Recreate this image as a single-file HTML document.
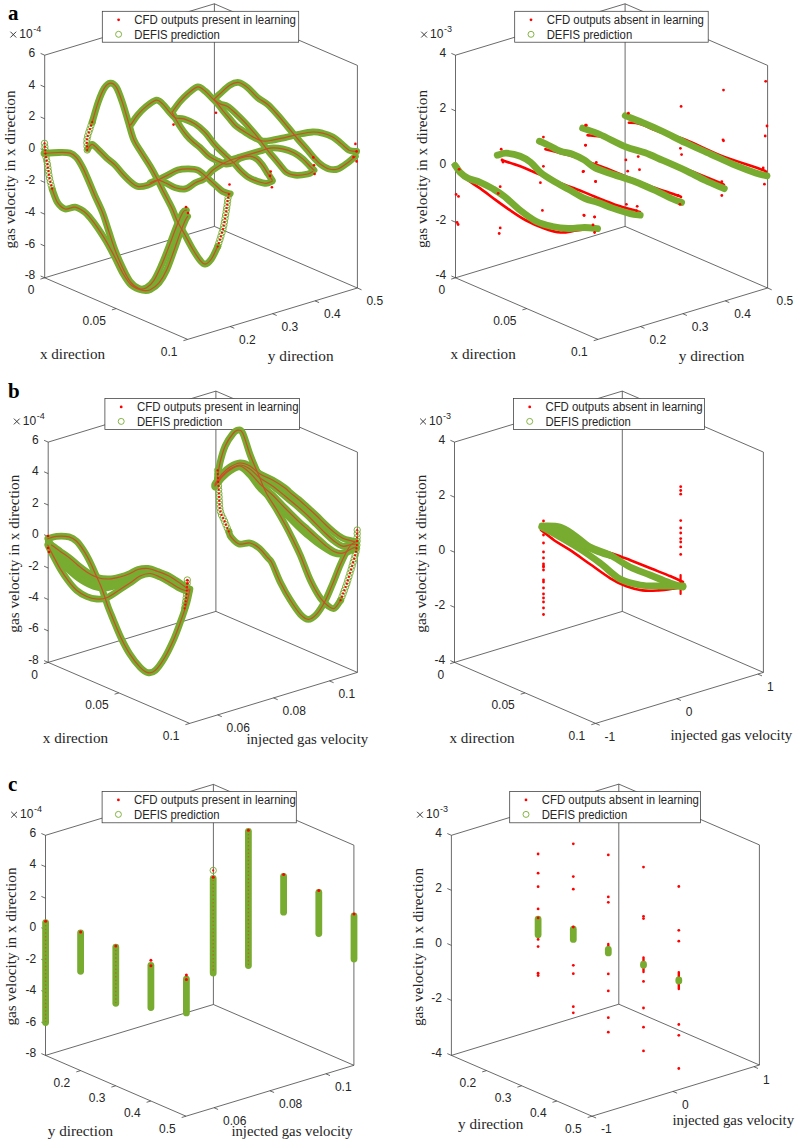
<!DOCTYPE html><html><head><meta charset="utf-8"><style>html,body{margin:0;padding:0;background:#fff;}svg{display:block}</style></head><body>
<svg width="797" height="1142" viewBox="0 0 797 1142">
<rect width="797" height="1142" fill="#fff"/>
<path d="M44.7 277.8L44.7 55.2M214.4 226.4L214.4 3.8M357.4 288.0L357.4 65.4M44.7 277.8L214.4 226.4M214.4 226.4L357.4 288.0M44.7 277.8L187.7 339.4M187.7 339.4L357.4 288.0M44.7 55.2L214.4 3.8M214.4 3.8L357.4 65.4M44.7 55.2L40.6 53.4M44.7 87.0L40.6 85.2M44.7 118.8L40.6 117.0M44.7 150.6L40.6 148.8M44.7 182.4L40.6 180.6M44.7 214.2L40.6 212.4M44.7 246.0L40.6 244.2M44.7 277.8L40.6 276.0M44.7 277.8L40.4 279.1M116.2 308.6L111.9 309.9M187.7 339.4L183.4 340.7M230.1 326.5L234.3 328.3M272.5 313.7L276.7 315.5M315.0 300.9L319.1 302.6M357.4 288.0L361.5 289.8" stroke="#3a3a3a" stroke-width="0.75" fill="none"/>
<text x="35.3" y="56.7" font-family='"Liberation Sans", sans-serif' font-size="12" fill="#262626" text-anchor="end">6</text>
<text x="35.3" y="88.5" font-family='"Liberation Sans", sans-serif' font-size="12" fill="#262626" text-anchor="end">4</text>
<text x="35.3" y="120.3" font-family='"Liberation Sans", sans-serif' font-size="12" fill="#262626" text-anchor="end">2</text>
<text x="35.3" y="152.1" font-family='"Liberation Sans", sans-serif' font-size="12" fill="#262626" text-anchor="end">0</text>
<text x="35.3" y="183.9" font-family='"Liberation Sans", sans-serif' font-size="12" fill="#262626" text-anchor="end">-2</text>
<text x="35.3" y="215.7" font-family='"Liberation Sans", sans-serif' font-size="12" fill="#262626" text-anchor="end">-4</text>
<text x="35.3" y="247.5" font-family='"Liberation Sans", sans-serif' font-size="12" fill="#262626" text-anchor="end">-6</text>
<text x="35.3" y="279.3" font-family='"Liberation Sans", sans-serif' font-size="12" fill="#262626" text-anchor="end">-8</text>
<path d="M10.4 31.7L16.2 37.5M16.2 31.7L10.4 37.5" stroke="#262626" stroke-width="0.9"/>
<text x="19.3" y="38.2" font-family='"Liberation Sans", sans-serif' font-size="12" fill="#262626">10</text>
<text x="33.2" y="32.0" font-family='"Liberation Sans", sans-serif' font-size="9" fill="#262626">-4</text>
<rect x="102.3" y="11.3" width="196.4" height="30.9" fill="#fff" stroke="#3a3a3a" stroke-width="0.75"/>
<circle cx="118.6" cy="19.8" r="1.4" fill="#ff0000"/>
<circle cx="118.6" cy="34.3" r="3.0" fill="none" stroke="#77ac30" stroke-width="0.9"/>
<text x="134.3" y="24.1" font-family='"Liberation Sans", sans-serif' font-size="12" fill="#262626" textLength="161.7" lengthAdjust="spacingAndGlyphs">CFD outputs present in learning</text>
<text x="134.3" y="38.6" font-family='"Liberation Sans", sans-serif' font-size="12" fill="#262626" textLength="85.5" lengthAdjust="spacingAndGlyphs">DEFIS prediction</text>
<text x="8.0" y="20.2" font-family='"Liberation Serif", serif' font-size="21" font-weight="bold" fill="#000">a</text>
<text x="34.4" y="294.1" font-family='"Liberation Sans", sans-serif' font-size="12" fill="#262626" text-anchor="end">0</text>
<text x="105.9" y="324.9" font-family='"Liberation Sans", sans-serif' font-size="12" fill="#262626" text-anchor="end">0.05</text>
<text x="177.4" y="355.7" font-family='"Liberation Sans", sans-serif' font-size="12" fill="#262626" text-anchor="end">0.1</text>
<text x="239.1" y="343.7" font-family='"Liberation Sans", sans-serif' font-size="12" fill="#262626">0.2</text>
<text x="281.5" y="330.9" font-family='"Liberation Sans", sans-serif' font-size="12" fill="#262626">0.3</text>
<text x="324.0" y="318.1" font-family='"Liberation Sans", sans-serif' font-size="12" fill="#262626">0.4</text>
<text x="366.4" y="305.2" font-family='"Liberation Sans", sans-serif' font-size="12" fill="#262626">0.5</text>
<text x="39.9" y="358.9" font-family='"Liberation Serif", serif' font-size="14.5" fill="#262626" textLength="65.3" lengthAdjust="spacingAndGlyphs">x direction</text>
<text x="267.8" y="361.4" font-family='"Liberation Serif", serif' font-size="14.5" fill="#262626" textLength="65.8" lengthAdjust="spacingAndGlyphs">y direction</text>
<text transform="translate(15.0 248.4) rotate(-90)" x="0" y="0" font-family='"Liberation Serif", serif' font-size="14" fill="#262626" textLength="158" lengthAdjust="spacingAndGlyphs">gas velocity in x direction</text>
<path d="M455.5 277.8L455.5 55.2M625.1 226.4L625.1 3.8M767.6 288.0L767.6 65.4M455.5 277.8L625.1 226.4M625.1 226.4L767.6 288.0M455.5 277.8L598.0 339.4M598.0 339.4L767.6 288.0M455.5 55.2L625.1 3.8M625.1 3.8L767.6 65.4M455.5 55.2L451.4 53.4M455.5 110.9L451.4 109.1M455.5 166.5L451.4 164.7M455.5 222.2L451.4 220.4M455.5 277.8L451.4 276.0M455.5 277.8L451.2 279.1M526.8 308.6L522.4 309.9M598.0 339.4L593.7 340.7M640.4 326.5L644.5 328.3M682.8 313.7L686.9 315.5M725.2 300.9L729.3 302.6M767.6 288.0L771.7 289.8" stroke="#3a3a3a" stroke-width="0.75" fill="none"/>
<text x="446.1" y="56.7" font-family='"Liberation Sans", sans-serif' font-size="12" fill="#262626" text-anchor="end">4</text>
<text x="446.1" y="112.4" font-family='"Liberation Sans", sans-serif' font-size="12" fill="#262626" text-anchor="end">2</text>
<text x="446.1" y="168.0" font-family='"Liberation Sans", sans-serif' font-size="12" fill="#262626" text-anchor="end">0</text>
<text x="446.1" y="223.7" font-family='"Liberation Sans", sans-serif' font-size="12" fill="#262626" text-anchor="end">-2</text>
<text x="446.1" y="279.3" font-family='"Liberation Sans", sans-serif' font-size="12" fill="#262626" text-anchor="end">-4</text>
<path d="M421.2 31.7L427.0 37.5M427.0 31.7L421.2 37.5" stroke="#262626" stroke-width="0.9"/>
<text x="430.1" y="38.2" font-family='"Liberation Sans", sans-serif' font-size="12" fill="#262626">10</text>
<text x="444.0" y="32.0" font-family='"Liberation Sans", sans-serif' font-size="9" fill="#262626">-3</text>
<rect x="514.7" y="11.3" width="193.5" height="30.9" fill="#fff" stroke="#3a3a3a" stroke-width="0.75"/>
<circle cx="531.0" cy="19.8" r="1.4" fill="#ff0000"/>
<circle cx="531.0" cy="34.3" r="3.0" fill="none" stroke="#77ac30" stroke-width="0.9"/>
<text x="546.7" y="24.1" font-family='"Liberation Sans", sans-serif' font-size="12" fill="#262626" textLength="157.2" lengthAdjust="spacingAndGlyphs">CFD outputs absent in learning</text>
<text x="546.7" y="38.6" font-family='"Liberation Sans", sans-serif' font-size="12" fill="#262626" textLength="85.5" lengthAdjust="spacingAndGlyphs">DEFIS prediction</text>
<text x="445.2" y="294.1" font-family='"Liberation Sans", sans-serif' font-size="12" fill="#262626" text-anchor="end">0</text>
<text x="516.5" y="324.9" font-family='"Liberation Sans", sans-serif' font-size="12" fill="#262626" text-anchor="end">0.05</text>
<text x="587.7" y="355.7" font-family='"Liberation Sans", sans-serif' font-size="12" fill="#262626" text-anchor="end">0.1</text>
<text x="649.4" y="343.7" font-family='"Liberation Sans", sans-serif' font-size="12" fill="#262626">0.2</text>
<text x="691.8" y="330.9" font-family='"Liberation Sans", sans-serif' font-size="12" fill="#262626">0.3</text>
<text x="734.2" y="318.1" font-family='"Liberation Sans", sans-serif' font-size="12" fill="#262626">0.4</text>
<text x="776.6" y="305.2" font-family='"Liberation Sans", sans-serif' font-size="12" fill="#262626">0.5</text>
<text x="450.5" y="358.9" font-family='"Liberation Serif", serif' font-size="14.5" fill="#262626" textLength="65.3" lengthAdjust="spacingAndGlyphs">x direction</text>
<text x="678.7" y="361.4" font-family='"Liberation Serif", serif' font-size="14.5" fill="#262626" textLength="65.8" lengthAdjust="spacingAndGlyphs">y direction</text>
<text transform="translate(426.6 248.0) rotate(-90)" x="0" y="0" font-family='"Liberation Serif", serif' font-size="14" fill="#262626" textLength="158" lengthAdjust="spacingAndGlyphs">gas velocity in x direction</text>
<path d="M48.2 662.4L48.2 442.1M215.9 611.4L215.9 391.1M357.4 672.4L357.4 452.1M48.2 662.4L215.9 611.4M215.9 611.4L357.4 672.4M48.2 662.4L189.7 723.4M189.7 723.4L357.4 672.4M48.2 442.1L215.9 391.1M215.9 391.1L357.4 452.1M48.2 442.1L44.1 440.3M48.2 473.6L44.1 471.8M48.2 505.0L44.1 503.3M48.2 536.5L44.1 534.7M48.2 568.0L44.1 566.2M48.2 599.5L44.1 597.7M48.2 630.9L44.1 629.1M48.2 662.4L44.1 660.6M48.2 662.4L43.9 663.7M118.9 692.9L114.6 694.2M189.7 723.4L185.4 724.7M217.6 714.9L221.8 716.7M273.5 697.9L277.7 699.7M329.4 680.9L333.6 682.7" stroke="#3a3a3a" stroke-width="0.75" fill="none"/>
<text x="38.8" y="443.6" font-family='"Liberation Sans", sans-serif' font-size="12" fill="#262626" text-anchor="end">6</text>
<text x="38.8" y="475.1" font-family='"Liberation Sans", sans-serif' font-size="12" fill="#262626" text-anchor="end">4</text>
<text x="38.8" y="506.5" font-family='"Liberation Sans", sans-serif' font-size="12" fill="#262626" text-anchor="end">2</text>
<text x="38.8" y="538.0" font-family='"Liberation Sans", sans-serif' font-size="12" fill="#262626" text-anchor="end">0</text>
<text x="38.8" y="569.5" font-family='"Liberation Sans", sans-serif' font-size="12" fill="#262626" text-anchor="end">-2</text>
<text x="38.8" y="601.0" font-family='"Liberation Sans", sans-serif' font-size="12" fill="#262626" text-anchor="end">-4</text>
<text x="38.8" y="632.4" font-family='"Liberation Sans", sans-serif' font-size="12" fill="#262626" text-anchor="end">-6</text>
<text x="38.8" y="663.9" font-family='"Liberation Sans", sans-serif' font-size="12" fill="#262626" text-anchor="end">-8</text>
<path d="M13.9 418.6L19.7 424.4M19.7 418.6L13.9 424.4" stroke="#262626" stroke-width="0.9"/>
<text x="22.8" y="425.1" font-family='"Liberation Sans", sans-serif' font-size="12" fill="#262626">10</text>
<text x="36.7" y="418.9" font-family='"Liberation Sans", sans-serif' font-size="9" fill="#262626">-4</text>
<rect x="104.9" y="398.4" width="194.5" height="31.1" fill="#fff" stroke="#3a3a3a" stroke-width="0.75"/>
<circle cx="121.2" cy="406.9" r="1.4" fill="#ff0000"/>
<circle cx="121.2" cy="421.4" r="3.0" fill="none" stroke="#77ac30" stroke-width="0.9"/>
<text x="136.9" y="411.2" font-family='"Liberation Sans", sans-serif' font-size="12" fill="#262626" textLength="161.7" lengthAdjust="spacingAndGlyphs">CFD outputs present in learning</text>
<text x="136.9" y="425.7" font-family='"Liberation Sans", sans-serif' font-size="12" fill="#262626" textLength="85.5" lengthAdjust="spacingAndGlyphs">DEFIS prediction</text>
<text x="8.0" y="398.3" font-family='"Liberation Serif", serif' font-size="21" font-weight="bold" fill="#000">b</text>
<text x="37.9" y="678.7" font-family='"Liberation Sans", sans-serif' font-size="12" fill="#262626" text-anchor="end">0</text>
<text x="108.6" y="709.2" font-family='"Liberation Sans", sans-serif' font-size="12" fill="#262626" text-anchor="end">0.05</text>
<text x="179.4" y="739.7" font-family='"Liberation Sans", sans-serif' font-size="12" fill="#262626" text-anchor="end">0.1</text>
<text x="226.6" y="732.1" font-family='"Liberation Sans", sans-serif' font-size="12" fill="#262626">0.06</text>
<text x="282.5" y="715.1" font-family='"Liberation Sans", sans-serif' font-size="12" fill="#262626">0.08</text>
<text x="338.4" y="698.1" font-family='"Liberation Sans", sans-serif' font-size="12" fill="#262626">0.1</text>
<text x="42.8" y="742.7" font-family='"Liberation Serif", serif' font-size="14.5" fill="#262626" textLength="65.3" lengthAdjust="spacingAndGlyphs">x direction</text>
<text x="246.5" y="743.9" font-family='"Liberation Serif", serif' font-size="14.5" fill="#262626" textLength="121.7" lengthAdjust="spacingAndGlyphs">injected gas velocity</text>
<text transform="translate(19.1 632.7) rotate(-90)" x="0" y="0" font-family='"Liberation Serif", serif' font-size="14" fill="#262626" textLength="158" lengthAdjust="spacingAndGlyphs">gas velocity in x direction</text>
<path d="M454.5 662.4L454.5 442.1M622.3 611.4L622.3 391.1M763.4 672.4L763.4 452.1M454.5 662.4L622.3 611.4M622.3 611.4L763.4 672.4M454.5 662.4L595.6 723.4M595.6 723.4L763.4 672.4M454.5 442.1L622.3 391.1M622.3 391.1L763.4 452.1M454.5 442.1L450.4 440.3M454.5 497.2L450.4 495.4M454.5 552.2L450.4 550.5M454.5 607.3L450.4 605.5M454.5 662.4L450.4 660.6M454.5 662.4L450.2 663.7M525.1 692.9L520.7 694.2M595.6 723.4L591.3 724.7M595.6 723.4L599.7 725.2M676.7 698.7L680.9 700.5M757.9 674.1L762.0 675.9" stroke="#3a3a3a" stroke-width="0.75" fill="none"/>
<text x="445.1" y="443.6" font-family='"Liberation Sans", sans-serif' font-size="12" fill="#262626" text-anchor="end">4</text>
<text x="445.1" y="498.7" font-family='"Liberation Sans", sans-serif' font-size="12" fill="#262626" text-anchor="end">2</text>
<text x="445.1" y="553.8" font-family='"Liberation Sans", sans-serif' font-size="12" fill="#262626" text-anchor="end">0</text>
<text x="445.1" y="608.8" font-family='"Liberation Sans", sans-serif' font-size="12" fill="#262626" text-anchor="end">-2</text>
<text x="445.1" y="663.9" font-family='"Liberation Sans", sans-serif' font-size="12" fill="#262626" text-anchor="end">-4</text>
<path d="M420.2 418.6L426.0 424.4M426.0 418.6L420.2 424.4" stroke="#262626" stroke-width="0.9"/>
<text x="429.1" y="425.1" font-family='"Liberation Sans", sans-serif' font-size="12" fill="#262626">10</text>
<text x="443.0" y="418.9" font-family='"Liberation Sans", sans-serif' font-size="9" fill="#262626">-3</text>
<rect x="513.4" y="398.4" width="191.0" height="31.1" fill="#fff" stroke="#3a3a3a" stroke-width="0.75"/>
<circle cx="529.7" cy="406.9" r="1.4" fill="#ff0000"/>
<circle cx="529.7" cy="421.4" r="3.0" fill="none" stroke="#77ac30" stroke-width="0.9"/>
<text x="545.4" y="411.2" font-family='"Liberation Sans", sans-serif' font-size="12" fill="#262626" textLength="157.2" lengthAdjust="spacingAndGlyphs">CFD outputs absent in learning</text>
<text x="545.4" y="425.7" font-family='"Liberation Sans", sans-serif' font-size="12" fill="#262626" textLength="85.5" lengthAdjust="spacingAndGlyphs">DEFIS prediction</text>
<text x="444.2" y="678.7" font-family='"Liberation Sans", sans-serif' font-size="12" fill="#262626" text-anchor="end">0</text>
<text x="514.8" y="709.2" font-family='"Liberation Sans", sans-serif' font-size="12" fill="#262626" text-anchor="end">0.05</text>
<text x="585.3" y="739.7" font-family='"Liberation Sans", sans-serif' font-size="12" fill="#262626" text-anchor="end">0.1</text>
<text x="604.6" y="740.6" font-family='"Liberation Sans", sans-serif' font-size="12" fill="#262626">-1</text>
<text x="685.7" y="715.9" font-family='"Liberation Sans", sans-serif' font-size="12" fill="#262626">0</text>
<text x="766.9" y="691.3" font-family='"Liberation Sans", sans-serif' font-size="12" fill="#262626">1</text>
<text x="449.4" y="742.7" font-family='"Liberation Serif", serif' font-size="14.5" fill="#262626" textLength="65.3" lengthAdjust="spacingAndGlyphs">x direction</text>
<text x="670.5" y="740.2" font-family='"Liberation Serif", serif' font-size="14.5" fill="#262626" textLength="121.7" lengthAdjust="spacingAndGlyphs">injected gas velocity</text>
<text transform="translate(425.6 632.7) rotate(-90)" x="0" y="0" font-family='"Liberation Serif", serif' font-size="14" fill="#262626" textLength="158" lengthAdjust="spacingAndGlyphs">gas velocity in x direction</text>
<path d="M45.5 1055.4L45.5 835.3M213.4 1004.5L213.4 784.4M353.9 1065.3L353.9 845.2M45.5 1055.4L213.4 1004.5M213.4 1004.5L353.9 1065.3M45.5 1055.4L186.0 1116.2M186.0 1116.2L353.9 1065.3M45.5 835.3L213.4 784.4M213.4 784.4L353.9 845.2M45.5 835.3L41.4 833.5M45.5 866.7L41.4 865.0M45.5 898.2L41.4 896.4M45.5 929.6L41.4 927.8M45.5 961.1L41.4 959.3M45.5 992.5L41.4 990.7M45.5 1024.0L41.4 1022.2M45.5 1055.4L41.4 1053.6M80.6 1070.6L76.3 1071.9M115.7 1085.8L111.4 1087.1M150.9 1101.0L146.6 1102.3M186.0 1116.2L181.7 1117.5M214.0 1107.7L218.1 1109.5M269.9 1090.8L274.1 1092.5M325.9 1073.8L330.0 1075.6" stroke="#3a3a3a" stroke-width="0.75" fill="none"/>
<text x="36.1" y="836.8" font-family='"Liberation Sans", sans-serif' font-size="12" fill="#262626" text-anchor="end">6</text>
<text x="36.1" y="868.2" font-family='"Liberation Sans", sans-serif' font-size="12" fill="#262626" text-anchor="end">4</text>
<text x="36.1" y="899.7" font-family='"Liberation Sans", sans-serif' font-size="12" fill="#262626" text-anchor="end">2</text>
<text x="36.1" y="931.1" font-family='"Liberation Sans", sans-serif' font-size="12" fill="#262626" text-anchor="end">0</text>
<text x="36.1" y="962.6" font-family='"Liberation Sans", sans-serif' font-size="12" fill="#262626" text-anchor="end">-2</text>
<text x="36.1" y="994.0" font-family='"Liberation Sans", sans-serif' font-size="12" fill="#262626" text-anchor="end">-4</text>
<text x="36.1" y="1025.5" font-family='"Liberation Sans", sans-serif' font-size="12" fill="#262626" text-anchor="end">-6</text>
<text x="36.1" y="1056.9" font-family='"Liberation Sans", sans-serif' font-size="12" fill="#262626" text-anchor="end">-8</text>
<path d="M11.2 811.8L17.0 817.6M17.0 811.8L11.2 817.6" stroke="#262626" stroke-width="0.9"/>
<text x="20.1" y="818.3" font-family='"Liberation Sans", sans-serif' font-size="12" fill="#262626">10</text>
<text x="34.0" y="812.1" font-family='"Liberation Sans", sans-serif' font-size="9" fill="#262626">-4</text>
<rect x="102.1" y="791.4" width="194.2" height="31.4" fill="#fff" stroke="#3a3a3a" stroke-width="0.75"/>
<circle cx="118.4" cy="799.9" r="1.4" fill="#ff0000"/>
<circle cx="118.4" cy="814.4" r="3.0" fill="none" stroke="#77ac30" stroke-width="0.9"/>
<text x="134.1" y="804.2" font-family='"Liberation Sans", sans-serif' font-size="12" fill="#262626" textLength="161.7" lengthAdjust="spacingAndGlyphs">CFD outputs present in learning</text>
<text x="134.1" y="818.7" font-family='"Liberation Sans", sans-serif' font-size="12" fill="#262626" textLength="85.5" lengthAdjust="spacingAndGlyphs">DEFIS prediction</text>
<text x="8.0" y="791.3" font-family='"Liberation Serif", serif' font-size="21" font-weight="bold" fill="#000">c</text>
<text x="70.3" y="1086.9" font-family='"Liberation Sans", sans-serif' font-size="12" fill="#262626" text-anchor="end">0.2</text>
<text x="105.4" y="1102.1" font-family='"Liberation Sans", sans-serif' font-size="12" fill="#262626" text-anchor="end">0.3</text>
<text x="140.6" y="1117.3" font-family='"Liberation Sans", sans-serif' font-size="12" fill="#262626" text-anchor="end">0.4</text>
<text x="175.7" y="1132.5" font-family='"Liberation Sans", sans-serif' font-size="12" fill="#262626" text-anchor="end">0.5</text>
<text x="223.0" y="1124.9" font-family='"Liberation Sans", sans-serif' font-size="12" fill="#262626">0.06</text>
<text x="278.9" y="1108.0" font-family='"Liberation Sans", sans-serif' font-size="12" fill="#262626">0.08</text>
<text x="334.9" y="1091.0" font-family='"Liberation Sans", sans-serif' font-size="12" fill="#262626">0.1</text>
<text x="47.8" y="1135.9" font-family='"Liberation Serif", serif' font-size="14.5" fill="#262626" textLength="65.3" lengthAdjust="spacingAndGlyphs">y direction</text>
<text x="231.4" y="1135.9" font-family='"Liberation Serif", serif' font-size="14.5" fill="#262626" textLength="121.2" lengthAdjust="spacingAndGlyphs">injected gas velocity</text>
<text transform="translate(16.2 1025.5) rotate(-90)" x="0" y="0" font-family='"Liberation Serif", serif' font-size="14" fill="#262626" textLength="158" lengthAdjust="spacingAndGlyphs">gas velocity in x direction</text>
<path d="M451.4 1055.4L451.4 835.3M618.8 1004.2L618.8 784.1M759.4 1065.0L759.4 844.9M451.4 1055.4L618.8 1004.2M618.8 1004.2L759.4 1065.0M451.4 1055.4L592.0 1116.2M592.0 1116.2L759.4 1065.0M451.4 835.3L618.8 784.1M618.8 784.1L759.4 844.9M451.4 835.3L447.3 833.5M451.4 890.3L447.3 888.5M451.4 945.4L447.3 943.6M451.4 1000.4L447.3 998.6M451.4 1055.4L447.3 1053.6M486.5 1070.6L482.2 1071.9M521.7 1085.8L517.4 1087.1M556.9 1101.0L552.5 1102.3M592.0 1116.2L587.7 1117.5M592.0 1116.2L596.1 1118.0M672.9 1091.4L677.1 1093.2M753.9 1066.7L758.0 1068.5" stroke="#3a3a3a" stroke-width="0.75" fill="none"/>
<text x="442.0" y="836.8" font-family='"Liberation Sans", sans-serif' font-size="12" fill="#262626" text-anchor="end">4</text>
<text x="442.0" y="891.8" font-family='"Liberation Sans", sans-serif' font-size="12" fill="#262626" text-anchor="end">2</text>
<text x="442.0" y="946.9" font-family='"Liberation Sans", sans-serif' font-size="12" fill="#262626" text-anchor="end">0</text>
<text x="442.0" y="1001.9" font-family='"Liberation Sans", sans-serif' font-size="12" fill="#262626" text-anchor="end">-2</text>
<text x="442.0" y="1056.9" font-family='"Liberation Sans", sans-serif' font-size="12" fill="#262626" text-anchor="end">-4</text>
<path d="M417.1 811.8L422.9 817.6M422.9 811.8L417.1 817.6" stroke="#262626" stroke-width="0.9"/>
<text x="426.0" y="818.3" font-family='"Liberation Sans", sans-serif' font-size="12" fill="#262626">10</text>
<text x="439.9" y="812.1" font-family='"Liberation Sans", sans-serif' font-size="9" fill="#262626">-3</text>
<rect x="509.7" y="791.4" width="190.7" height="31.4" fill="#fff" stroke="#3a3a3a" stroke-width="0.75"/>
<circle cx="526.0" cy="799.9" r="1.4" fill="#ff0000"/>
<circle cx="526.0" cy="814.4" r="3.0" fill="none" stroke="#77ac30" stroke-width="0.9"/>
<text x="541.7" y="804.2" font-family='"Liberation Sans", sans-serif' font-size="12" fill="#262626" textLength="157.2" lengthAdjust="spacingAndGlyphs">CFD outputs absent in learning</text>
<text x="541.7" y="818.7" font-family='"Liberation Sans", sans-serif' font-size="12" fill="#262626" textLength="85.5" lengthAdjust="spacingAndGlyphs">DEFIS prediction</text>
<text x="476.2" y="1086.9" font-family='"Liberation Sans", sans-serif' font-size="12" fill="#262626" text-anchor="end">0.2</text>
<text x="511.4" y="1102.1" font-family='"Liberation Sans", sans-serif' font-size="12" fill="#262626" text-anchor="end">0.3</text>
<text x="546.6" y="1117.3" font-family='"Liberation Sans", sans-serif' font-size="12" fill="#262626" text-anchor="end">0.4</text>
<text x="581.7" y="1132.5" font-family='"Liberation Sans", sans-serif' font-size="12" fill="#262626" text-anchor="end">0.5</text>
<text x="601.0" y="1133.4" font-family='"Liberation Sans", sans-serif' font-size="12" fill="#262626">-1</text>
<text x="681.9" y="1108.6" font-family='"Liberation Sans", sans-serif' font-size="12" fill="#262626">0</text>
<text x="762.9" y="1083.9" font-family='"Liberation Sans", sans-serif' font-size="12" fill="#262626">1</text>
<text x="458.0" y="1128.5" font-family='"Liberation Serif", serif' font-size="14.5" fill="#262626" textLength="65.3" lengthAdjust="spacingAndGlyphs">y direction</text>
<text x="672.4" y="1124.7" font-family='"Liberation Serif", serif' font-size="14.5" fill="#262626" textLength="121.7" lengthAdjust="spacingAndGlyphs">injected gas velocity</text>
<text transform="translate(422.6 1026.0) rotate(-90)" x="0" y="0" font-family='"Liberation Serif", serif' font-size="14" fill="#262626" textLength="158" lengthAdjust="spacingAndGlyphs">gas velocity in x direction</text>
<path d="M458.1 170.3C459.8 172.0 464.4 177.3 468.1 180.3C471.8 183.3 475.5 185.1 480.2 188.4C484.9 191.8 491.2 196.7 496.2 200.4C501.2 204.1 505.3 207.1 510.3 210.4C515.3 213.8 520.6 217.5 526.3 220.5C532.0 223.5 538.7 226.5 544.4 228.5C550.1 230.5 555.1 232.2 560.5 232.5C565.9 232.8 571.1 231.2 576.5 230.5C581.9 229.8 589.9 228.8 592.6 228.5" stroke="#ff0000" stroke-width="2.6" fill="none" stroke-linecap="round" stroke-linejoin="round"/>
<path d="M502.2 160.2C505.2 161.2 514.9 164.3 520.3 166.3C525.7 168.3 530.4 170.6 534.4 172.3C538.4 174.0 540.1 174.5 544.4 176.3C548.7 178.1 554.1 180.6 560.0 183.0C565.9 185.4 574.1 188.2 580.0 190.5C585.9 192.8 588.8 194.3 595.1 196.8C601.4 199.3 610.9 203.2 617.6 205.5C624.3 207.8 631.5 209.5 635.2 210.6C638.9 211.7 639.2 211.8 640.0 212.0" stroke="#ff0000" stroke-width="2.6" fill="none" stroke-linecap="round" stroke-linejoin="round"/>
<path d="M545.4 149.2C547.8 149.8 555.1 151.7 560.0 153.0C564.9 154.3 570.4 155.6 575.0 157.0C579.6 158.4 582.5 159.8 587.5 161.6C592.5 163.4 598.0 165.2 605.1 167.9C612.2 170.6 621.6 174.7 630.0 178.0C638.4 181.3 647.3 185.1 655.3 188.0C663.3 190.9 673.6 194.0 677.9 195.5C682.2 197.0 680.5 196.8 681.0 197.0" stroke="#ff0000" stroke-width="2.6" fill="none" stroke-linecap="round" stroke-linejoin="round"/>
<path d="M587.5 135.3C590.4 135.7 598.0 135.7 605.1 137.8C612.2 139.9 620.8 144.4 630.0 148.0C639.2 151.6 649.8 155.2 660.3 159.1C670.8 163.0 682.9 167.7 692.9 171.7C702.9 175.7 715.3 180.8 720.5 183.0C725.7 185.2 723.4 184.7 724.0 185.0" stroke="#ff0000" stroke-width="2.6" fill="none" stroke-linecap="round" stroke-linejoin="round"/>
<path d="M628.9 122.7C630.8 122.9 635.0 122.5 640.2 124.0C645.4 125.5 652.5 129.4 660.0 132.0C667.5 134.6 675.3 135.9 685.4 139.8C695.5 143.7 708.0 150.5 720.5 155.4C733.0 160.3 753.1 166.4 760.7 169.2C768.3 172.0 765.1 171.5 766.0 172.0" stroke="#ff0000" stroke-width="2.6" fill="none" stroke-linecap="round" stroke-linejoin="round"/>
<path d="M541.0 530.0C543.2 531.7 549.2 536.8 554.1 540.2C559.0 543.6 564.2 546.2 570.2 550.2C576.2 554.2 583.5 559.6 590.2 564.3C596.9 569.0 604.3 574.6 610.3 578.3C616.3 582.0 621.0 584.3 626.4 586.3C631.8 588.3 637.0 589.7 642.4 590.4C647.8 591.1 653.1 590.7 658.5 590.4C663.9 590.1 670.5 589.0 674.6 588.4C678.7 587.8 681.6 587.2 683.0 587.0" stroke="#ff0000" stroke-width="2.6" fill="none" stroke-linecap="round" stroke-linejoin="round"/>
<path d="M600.0 550.0C602.4 550.7 609.2 552.5 614.3 554.2C619.4 555.9 624.4 557.9 630.4 560.2C636.4 562.6 643.8 565.6 650.5 568.3C657.2 571.0 665.2 574.0 670.6 576.3C676.0 578.6 680.9 581.0 683.0 582.0" stroke="#ff0000" stroke-width="2.6" fill="none" stroke-linecap="round" stroke-linejoin="round"/>
<path d="M680.6 575.0C680.6 578.2 680.6 590.8 680.6 594.0" stroke="#ff0000" stroke-width="2.2" fill="none" stroke-linecap="round" stroke-linejoin="round"/>
<path d="M608.3 944.0C608.3 945.2 608.3 949.8 608.3 951.0" stroke="#ff0000" stroke-width="2.4" fill="none" stroke-linecap="round" stroke-linejoin="round"/>
<path d="M643.5 957.4C643.5 959.9 643.5 969.6 643.5 972.1" stroke="#ff0000" stroke-width="2.4" fill="none" stroke-linecap="round" stroke-linejoin="round"/>
<path d="M678.8 972.1C678.8 974.9 678.8 986.2 678.8 989.0" stroke="#ff0000" stroke-width="2.4" fill="none" stroke-linecap="round" stroke-linejoin="round"/>
<path d="M44.0 153.5C46.5 153.3 54.4 152.6 58.8 152.5C63.1 152.4 67.2 152.3 70.1 153.1C73.0 153.9 74.3 155.1 76.4 157.5C78.5 159.9 80.6 163.6 82.7 167.6C84.8 171.6 86.8 176.6 88.9 181.4C91.0 186.2 92.9 191.2 95.2 196.4C97.5 201.6 100.2 206.7 102.5 212.5C104.8 218.3 106.7 225.1 108.8 231.4C110.9 237.7 112.8 244.1 115.1 250.2C117.4 256.3 120.1 262.6 122.6 267.8C125.1 273.0 127.5 278.2 130.2 281.6C132.9 285.1 136.2 287.5 138.9 288.5C141.6 289.5 144.0 289.2 146.5 287.8C149.0 286.4 151.5 284.1 154.0 280.3C156.5 276.5 159.0 270.8 161.5 265.2C164.0 259.6 166.5 252.9 169.0 246.4C171.5 239.9 174.3 232.0 176.6 226.3C178.9 220.7 181.2 215.2 182.8 212.5C184.4 209.8 185.7 210.5 186.3 210.1" stroke="#77ac30" stroke-width="6.8" fill="none" stroke-linecap="round" stroke-linejoin="round"/>
<circle cx="44.5" cy="143.3" r="3.2" fill="none" stroke="#77ac30" stroke-width="0.9"/>
<circle cx="44.9" cy="146.8" r="3.2" fill="none" stroke="#77ac30" stroke-width="0.9"/>
<circle cx="45.3" cy="150.3" r="3.2" fill="none" stroke="#77ac30" stroke-width="0.9"/>
<circle cx="45.4" cy="153.7" r="3.2" fill="none" stroke="#77ac30" stroke-width="0.9"/>
<circle cx="46.0" cy="157.2" r="3.2" fill="none" stroke="#77ac30" stroke-width="0.9"/>
<circle cx="46.7" cy="160.6" r="3.2" fill="none" stroke="#77ac30" stroke-width="0.9"/>
<circle cx="47.4" cy="164.2" r="3.2" fill="none" stroke="#77ac30" stroke-width="0.9"/>
<circle cx="47.9" cy="167.7" r="3.2" fill="none" stroke="#77ac30" stroke-width="0.9"/>
<circle cx="48.4" cy="171.1" r="3.2" fill="none" stroke="#77ac30" stroke-width="0.9"/>
<circle cx="48.9" cy="174.7" r="3.2" fill="none" stroke="#77ac30" stroke-width="0.9"/>
<circle cx="49.5" cy="178.2" r="3.2" fill="none" stroke="#77ac30" stroke-width="0.9"/>
<circle cx="50.3" cy="181.8" r="3.2" fill="none" stroke="#77ac30" stroke-width="0.9"/>
<circle cx="51.2" cy="185.4" r="3.2" fill="none" stroke="#77ac30" stroke-width="0.9"/>
<circle cx="52.1" cy="188.7" r="3.2" fill="none" stroke="#77ac30" stroke-width="0.9"/>
<path d="M52.5 190.2C53.4 192.3 55.5 199.6 57.6 202.7C59.7 205.8 62.2 208.3 65.1 209.0C68.0 209.7 72.0 206.7 75.1 207.1C78.2 207.5 81.4 209.8 83.9 211.5C86.4 213.2 87.7 214.9 90.0 217.6C92.3 220.3 94.8 223.6 97.5 227.6C100.2 231.6 103.4 236.4 106.3 241.4C109.2 246.4 112.4 252.5 115.1 257.7C117.8 262.9 119.9 268.2 122.6 272.8C125.3 277.4 128.1 282.4 131.4 285.3C134.8 288.2 139.6 289.6 142.7 290.3C145.8 291.0 147.5 290.9 150.2 289.7C152.9 288.4 156.3 286.0 159.0 282.8C161.7 279.6 164.0 275.7 166.5 270.3C169.0 264.9 171.8 256.5 174.1 250.2C176.4 243.9 178.4 237.6 180.3 232.6C182.2 227.6 184.2 222.8 185.4 220.1C186.6 217.4 187.2 217.0 187.6 216.4" stroke="#77ac30" stroke-width="6.8" fill="none" stroke-linecap="round" stroke-linejoin="round"/>
<circle cx="87.2" cy="150.0" r="3.2" fill="none" stroke="#77ac30" stroke-width="0.9"/>
<circle cx="87.0" cy="146.4" r="3.2" fill="none" stroke="#77ac30" stroke-width="0.9"/>
<circle cx="86.8" cy="142.8" r="3.2" fill="none" stroke="#77ac30" stroke-width="0.9"/>
<circle cx="87.0" cy="139.3" r="3.2" fill="none" stroke="#77ac30" stroke-width="0.9"/>
<circle cx="87.7" cy="136.0" r="3.2" fill="none" stroke="#77ac30" stroke-width="0.9"/>
<circle cx="88.8" cy="132.3" r="3.2" fill="none" stroke="#77ac30" stroke-width="0.9"/>
<circle cx="89.9" cy="129.1" r="3.2" fill="none" stroke="#77ac30" stroke-width="0.9"/>
<circle cx="91.0" cy="125.6" r="3.2" fill="none" stroke="#77ac30" stroke-width="0.9"/>
<circle cx="92.2" cy="122.2" r="3.2" fill="none" stroke="#77ac30" stroke-width="0.9"/>
<path d="M92.2 122.2C93.2 118.8 96.2 107.8 98.2 102.1C100.2 96.4 102.3 91.3 104.3 88.1C106.3 84.9 108.3 83.3 110.3 83.1C112.3 82.9 114.3 83.9 116.3 87.1C118.3 90.3 120.3 96.2 122.3 102.1C124.3 107.9 126.5 115.9 128.4 122.2C130.3 128.5 131.7 134.9 133.9 140.0C136.1 145.1 138.7 148.1 141.4 152.5C144.1 156.9 147.7 162.1 150.2 166.3C152.7 170.5 154.4 173.6 156.5 177.6C158.6 181.6 160.8 186.5 162.7 190.2C164.6 193.9 166.1 196.7 167.8 200.0C169.5 203.3 171.2 206.4 172.8 210.0C174.4 213.6 175.4 217.2 177.5 221.4C179.6 225.6 182.6 230.6 185.1 235.2C187.6 239.8 190.1 244.8 192.6 249.0C195.1 253.2 198.0 257.8 200.1 260.3C202.2 262.8 203.2 264.3 205.1 264.1C207.0 263.9 209.3 261.9 211.4 259.0C213.5 256.1 216.6 248.6 217.7 246.5" stroke="#77ac30" stroke-width="6.8" fill="none" stroke-linecap="round" stroke-linejoin="round"/>
<circle cx="217.7" cy="246.5" r="3.2" fill="none" stroke="#77ac30" stroke-width="0.9"/>
<circle cx="218.8" cy="243.1" r="3.2" fill="none" stroke="#77ac30" stroke-width="0.9"/>
<circle cx="219.9" cy="239.6" r="3.2" fill="none" stroke="#77ac30" stroke-width="0.9"/>
<circle cx="220.9" cy="236.3" r="3.2" fill="none" stroke="#77ac30" stroke-width="0.9"/>
<circle cx="222.0" cy="232.6" r="3.2" fill="none" stroke="#77ac30" stroke-width="0.9"/>
<circle cx="223.0" cy="229.1" r="3.2" fill="none" stroke="#77ac30" stroke-width="0.9"/>
<circle cx="223.8" cy="225.5" r="3.2" fill="none" stroke="#77ac30" stroke-width="0.9"/>
<circle cx="224.4" cy="222.2" r="3.2" fill="none" stroke="#77ac30" stroke-width="0.9"/>
<circle cx="225.0" cy="218.5" r="3.2" fill="none" stroke="#77ac30" stroke-width="0.9"/>
<circle cx="225.6" cy="215.0" r="3.2" fill="none" stroke="#77ac30" stroke-width="0.9"/>
<circle cx="226.2" cy="211.4" r="3.2" fill="none" stroke="#77ac30" stroke-width="0.9"/>
<circle cx="226.7" cy="208.0" r="3.2" fill="none" stroke="#77ac30" stroke-width="0.9"/>
<circle cx="227.2" cy="204.6" r="3.2" fill="none" stroke="#77ac30" stroke-width="0.9"/>
<circle cx="227.6" cy="201.1" r="3.2" fill="none" stroke="#77ac30" stroke-width="0.9"/>
<circle cx="228.1" cy="197.7" r="3.2" fill="none" stroke="#77ac30" stroke-width="0.9"/>
<circle cx="228.8" cy="194.3" r="3.2" fill="none" stroke="#77ac30" stroke-width="0.9"/>
<path d="M87.7 149.0C88.5 148.2 90.2 143.9 92.2 144.3C94.2 144.7 97.5 148.9 100.0 151.3C102.5 153.7 105.0 156.5 107.5 158.8C110.0 161.1 112.6 162.6 115.1 165.1C117.6 167.6 120.1 171.2 122.6 173.9C125.1 176.6 127.6 179.3 130.1 181.4C132.6 183.5 134.7 185.8 137.6 186.4C140.5 187.0 144.3 186.2 147.7 185.2C151.0 184.2 154.3 181.9 157.7 180.2C161.0 178.5 164.5 176.8 167.8 175.1C171.2 173.4 174.5 171.1 177.8 170.1C181.1 169.1 184.5 168.9 187.8 168.9C191.1 168.9 194.6 168.8 197.7 170.2C200.8 171.5 203.5 174.5 206.4 177.0C209.3 179.5 212.5 182.6 215.2 185.0C217.9 187.4 220.2 190.0 222.7 191.5C225.2 193.0 228.9 193.4 230.2 193.8" stroke="#77ac30" stroke-width="6.8" fill="none" stroke-linecap="round" stroke-linejoin="round"/>
<path d="M150.0 183.0C151.3 182.5 155.2 180.2 157.7 180.2C160.2 180.1 162.3 181.4 165.2 182.7C168.1 183.9 172.0 186.7 175.3 187.7C178.7 188.7 182.0 189.7 185.3 188.9C188.7 188.1 192.3 184.4 195.4 182.7C198.5 181.0 201.1 181.0 204.0 178.9C206.9 176.8 210.0 172.5 212.7 170.2C215.4 167.9 217.1 166.9 220.0 165.2C222.9 163.5 226.8 161.5 230.1 160.2C233.4 158.8 236.8 158.1 240.1 157.1C243.4 156.1 246.8 155.1 250.2 154.1C253.5 153.1 256.9 152.1 260.2 151.1C263.5 150.1 266.5 148.5 270.2 148.1C273.9 147.7 278.7 148.1 282.6 148.9C286.6 149.7 290.5 151.0 293.9 152.7C297.2 154.4 300.0 156.6 302.7 158.9C305.4 161.2 308.3 164.6 310.2 166.5C312.1 168.4 313.4 169.6 314.0 170.2" stroke="#77ac30" stroke-width="6.8" fill="none" stroke-linecap="round" stroke-linejoin="round"/>
<path d="M129.5 125.0C129.8 124.8 130.0 125.6 131.3 124.0C132.6 122.4 135.0 118.1 137.5 115.2C140.0 112.3 143.2 108.9 146.3 106.4C149.4 103.9 153.6 100.5 156.3 100.1C159.0 99.7 160.5 102.0 162.6 103.9C164.7 105.8 166.8 109.1 168.9 111.4C171.0 113.7 172.7 116.5 175.2 117.7C177.7 119.0 180.7 117.9 184.0 118.9C187.3 120.0 191.6 121.7 195.2 124.0C198.8 126.3 202.0 129.2 205.3 132.7C208.6 136.2 211.9 141.4 215.2 145.1C218.5 148.8 222.3 152.2 225.3 155.1C228.3 157.9 230.6 159.7 233.1 162.2C235.6 164.7 237.6 167.7 240.1 170.2C242.6 172.7 245.3 175.4 248.2 177.2C251.0 179.0 254.2 180.2 257.2 181.2C260.2 182.2 263.7 183.3 266.2 183.3C268.7 183.3 271.2 181.5 272.2 181.2" stroke="#77ac30" stroke-width="6.8" fill="none" stroke-linecap="round" stroke-linejoin="round"/>
<path d="M171.9 112.0C172.4 113.0 173.8 115.6 175.2 118.0C176.6 120.4 178.3 123.6 180.2 126.5C182.1 129.4 184.4 132.7 186.5 135.2C188.6 137.7 190.4 139.4 192.7 141.5C195.0 143.6 197.6 145.3 200.3 147.8C203.0 150.3 206.1 154.1 209.0 156.3C211.9 158.5 215.2 159.9 218.0 161.2C220.8 162.5 223.4 164.0 226.1 164.2C228.8 164.4 231.8 163.2 234.1 162.2C236.4 161.2 237.4 159.2 240.1 158.2C242.8 157.2 247.3 155.9 250.2 156.1C253.0 156.3 255.0 157.5 257.2 159.2C259.4 160.9 261.4 163.7 263.2 166.2C265.0 168.7 266.7 171.9 268.2 174.2C269.7 176.5 271.5 179.2 272.2 180.2" stroke="#77ac30" stroke-width="6.8" fill="none" stroke-linecap="round" stroke-linejoin="round"/>
<path d="M172.7 111.4C173.9 109.7 177.7 104.3 180.2 101.4C182.7 98.5 184.8 96.2 187.7 93.8C190.6 91.4 194.9 87.3 197.8 86.9C200.7 86.5 203.0 89.5 205.3 91.3C207.6 93.1 209.5 95.5 211.6 97.6C213.7 99.7 215.7 101.6 217.8 104.0C219.9 106.4 222.0 109.5 224.0 112.0C226.0 114.5 228.0 116.7 230.0 119.0C232.0 121.3 233.6 123.8 236.1 126.0C238.6 128.2 242.2 130.2 245.1 132.0C247.9 133.8 250.3 135.6 253.2 137.1C256.1 138.6 259.5 140.5 262.7 141.0C265.9 141.5 268.8 140.7 272.5 140.1C276.2 139.5 280.9 138.5 285.1 137.6C289.3 136.7 293.0 135.4 297.6 134.5C302.2 133.6 308.5 132.2 312.7 132.0C316.9 131.8 319.3 132.4 322.7 133.2C326.1 134.0 329.6 135.2 332.8 137.0C336.0 138.8 338.9 141.7 341.6 143.9C344.3 146.1 346.6 148.9 349.1 150.2C351.6 151.4 355.4 151.2 356.6 151.4" stroke="#77ac30" stroke-width="6.8" fill="none" stroke-linecap="round" stroke-linejoin="round"/>
<path d="M214.3 99.5C215.2 100.2 217.8 102.8 220.0 103.9C222.2 105.1 224.8 104.7 227.5 106.4C230.2 108.1 233.4 111.2 236.3 113.9C239.2 116.6 242.2 119.6 245.1 122.7C248.0 125.8 251.4 129.8 253.9 132.7C256.4 135.6 257.9 137.4 260.2 140.3C262.5 143.2 265.4 147.4 267.7 150.3C270.0 153.2 271.9 155.4 274.0 157.8C276.1 160.2 277.9 162.6 280.0 165.0C282.1 167.4 283.8 170.5 286.3 172.2C288.8 173.9 291.5 174.9 295.1 175.2C298.7 175.5 304.8 174.6 307.7 174.0C310.6 173.4 311.9 171.9 312.7 171.5" stroke="#77ac30" stroke-width="6.8" fill="none" stroke-linecap="round" stroke-linejoin="round"/>
<path d="M214.3 99.0C215.2 98.1 217.4 96.1 220.0 93.8C222.6 91.5 226.9 87.0 230.0 85.1C233.1 83.2 235.9 82.1 238.8 82.5C241.7 82.9 244.5 85.1 247.6 87.6C250.7 90.1 254.3 94.8 257.6 97.6C261.0 100.4 264.4 101.6 267.7 104.5C271.0 107.4 274.3 111.2 277.7 115.0C281.1 118.8 284.4 123.0 287.8 127.0C291.2 131.0 294.5 135.1 297.8 139.0C301.1 142.9 305.0 147.1 307.7 150.2C310.4 153.3 311.9 155.4 314.0 157.7C316.1 160.0 317.7 162.1 320.2 164.0C322.7 165.9 326.1 168.2 329.0 169.0C331.9 169.8 334.7 170.1 337.8 169.0C340.9 167.9 344.9 164.8 347.8 162.7C350.7 160.6 354.1 157.4 355.4 156.4" stroke="#77ac30" stroke-width="6.8" fill="none" stroke-linecap="round" stroke-linejoin="round"/>
<path d="M455.1 165.3C455.9 166.5 457.9 170.1 460.1 172.3C462.3 174.5 464.8 176.6 468.1 178.3C471.5 180.0 476.2 180.6 480.2 182.3C484.2 184.0 488.2 186.1 492.2 188.4C496.2 190.8 499.6 192.7 504.3 196.4C509.0 200.1 514.9 206.2 520.3 210.4C525.6 214.6 531.0 218.8 536.4 221.5C541.8 224.2 547.0 225.3 552.4 226.5C557.8 227.7 563.1 228.3 568.5 228.5C573.9 228.7 579.8 227.5 584.6 227.5C589.5 227.5 595.4 228.4 597.6 228.6" stroke="#77ac30" stroke-width="6.8" fill="none" stroke-linecap="round" stroke-linejoin="round"/>
<path d="M497.2 155.2C498.7 154.9 502.5 153.0 506.3 153.2C510.1 153.4 516.3 154.7 520.3 156.2C524.3 157.7 527.0 159.5 530.4 162.2C533.8 164.9 536.7 169.3 540.4 172.3C544.1 175.3 547.7 177.5 552.4 180.3C557.1 183.2 563.1 186.4 568.5 189.4C573.9 192.4 579.7 196.2 584.6 198.4C589.5 200.6 593.3 200.9 598.0 202.5C602.7 204.1 607.2 206.2 612.6 208.1C618.0 209.9 625.6 212.4 630.2 213.6C634.8 214.8 638.5 214.8 640.2 215.1" stroke="#77ac30" stroke-width="6.8" fill="none" stroke-linecap="round" stroke-linejoin="round"/>
<path d="M539.4 141.2C540.9 141.9 544.9 143.5 548.4 145.2C551.9 146.9 556.5 149.7 560.5 151.2C564.5 152.7 568.5 152.7 572.5 154.2C576.5 155.7 580.8 157.9 584.6 160.2C588.4 162.5 590.4 165.6 595.1 167.9C599.8 170.2 605.9 171.9 612.6 174.2C619.3 176.5 628.1 179.0 635.2 181.7C642.3 184.4 649.4 187.8 655.3 190.5C661.1 193.2 665.9 196.0 670.3 198.0C674.7 200.0 679.7 201.8 681.6 202.5" stroke="#77ac30" stroke-width="6.8" fill="none" stroke-linecap="round" stroke-linejoin="round"/>
<path d="M582.6 128.1C585.5 129.2 592.9 131.4 600.0 134.5C607.1 137.6 617.7 143.5 625.2 146.6C632.7 149.7 638.9 150.5 645.2 152.8C651.5 155.1 656.1 157.5 662.8 160.4C669.5 163.3 678.3 167.1 685.4 170.4C692.5 173.8 699.0 177.4 705.5 180.5C712.0 183.6 721.2 187.3 724.3 188.7" stroke="#77ac30" stroke-width="6.8" fill="none" stroke-linecap="round" stroke-linejoin="round"/>
<path d="M625.2 115.7C628.1 116.9 636.4 120.1 642.7 122.7C649.0 125.3 655.7 128.2 662.8 131.5C669.9 134.8 677.4 139.0 685.4 142.8C693.4 146.6 702.1 150.3 710.5 154.1C718.9 157.9 728.1 162.3 735.6 165.4C743.1 168.5 750.5 171.2 755.7 172.9C760.9 174.7 765.1 175.4 767.0 175.9" stroke="#77ac30" stroke-width="6.8" fill="none" stroke-linecap="round" stroke-linejoin="round"/>
<path d="M47.8 538.8C49.2 538.4 53.0 536.6 56.5 536.3C60.0 536.0 65.8 536.1 69.1 536.9C72.4 537.7 74.1 538.9 76.6 541.3C79.1 543.7 81.9 547.8 84.2 551.4C86.5 555.0 88.5 558.9 90.4 562.7C92.3 566.5 93.7 570.2 95.4 574.0C97.1 577.8 99.0 581.7 100.5 585.2C102.0 588.8 103.0 591.7 104.2 595.3C105.5 598.9 106.5 602.6 108.0 606.6C109.5 610.6 111.0 614.1 113.1 619.2C115.2 624.3 117.9 631.4 120.7 637.2C123.5 643.0 126.4 648.8 129.7 653.8C132.9 658.8 137.2 664.2 140.2 667.3C143.2 670.4 145.3 672.1 147.8 672.6C150.3 673.1 152.6 672.8 155.3 670.4C158.1 668.0 161.3 663.3 164.3 658.3C167.3 653.3 170.6 646.5 173.4 640.2C176.2 633.9 178.7 627.0 180.9 620.7C183.2 614.4 185.4 607.9 186.9 602.6C188.4 597.3 189.4 591.3 189.9 589.0" stroke="#77ac30" stroke-width="6.8" fill="none" stroke-linecap="round" stroke-linejoin="round"/>
<path d="M47.8 545.1C48.6 546.8 50.7 551.1 52.8 555.1C54.9 559.1 57.8 564.7 60.3 568.9C62.8 573.1 65.1 576.6 67.8 580.2C70.5 583.8 73.4 587.6 76.6 590.3C79.8 593.0 83.3 595.0 86.7 596.5C90.1 598.0 93.4 598.8 96.7 599.0C100.0 599.2 102.8 599.4 106.7 597.8C110.6 596.2 116.1 592.0 120.0 589.5C123.9 587.0 126.7 585.2 130.0 583.0C133.3 580.8 136.7 577.6 140.0 576.0C143.3 574.4 146.7 573.3 150.0 573.5C153.3 573.7 156.7 575.5 160.0 577.0C163.3 578.5 167.0 580.8 170.0 582.5C173.0 584.2 175.5 586.2 178.0 587.5C180.5 588.8 183.2 589.9 185.0 590.5C186.8 591.1 188.3 590.9 189.0 591.0" stroke="#77ac30" stroke-width="6.8" fill="none" stroke-linecap="round" stroke-linejoin="round"/>
<path d="M51.5 545.1C53.0 546.1 57.4 549.3 60.3 551.4C63.2 553.5 66.2 555.3 69.1 557.6C72.0 559.9 74.8 562.7 77.9 565.2C81.0 567.7 84.6 570.6 87.9 572.7C91.2 574.8 94.5 576.7 98.0 577.7C101.5 578.8 105.5 579.1 109.2 579.0C112.9 578.9 116.5 577.9 120.0 577.0C123.5 576.1 127.0 574.8 130.0 573.5C133.0 572.2 135.0 570.3 138.0 569.5C141.0 568.7 144.7 568.2 148.0 568.5C151.3 568.8 154.7 570.3 158.0 571.5C161.3 572.7 165.0 574.0 168.0 575.5C171.0 577.0 173.3 578.8 176.0 580.5C178.7 582.2 181.8 584.4 184.0 586.0C186.2 587.6 188.2 589.3 189.0 590.0" stroke="#77ac30" stroke-width="6.8" fill="none" stroke-linecap="round" stroke-linejoin="round"/>
<path d="M49.0 543.0C50.2 544.5 53.2 548.8 56.0 552.0C58.8 555.2 62.3 558.7 66.0 562.0C69.7 565.3 74.0 569.0 78.0 572.0C82.0 575.0 86.0 577.8 90.0 580.0C94.0 582.2 98.0 584.2 102.0 585.0C106.0 585.8 110.0 585.8 114.0 585.0C118.0 584.2 122.0 581.8 126.0 580.0C130.0 578.2 134.0 575.5 138.0 574.0C142.0 572.5 146.0 571.0 150.0 571.0C154.0 571.0 158.0 572.3 162.0 574.0C166.0 575.7 170.0 578.5 174.0 581.0C178.0 583.5 184.0 587.7 186.0 589.0" stroke="#77ac30" stroke-width="6.8" fill="none" stroke-linecap="round" stroke-linejoin="round"/>
<path d="M48.5 541.0C49.4 542.3 51.8 546.2 54.0 549.0C56.2 551.8 59.0 555.0 62.0 558.0C65.0 561.0 68.3 564.0 72.0 567.0C75.7 570.0 80.0 573.5 84.0 576.0C88.0 578.5 92.0 580.9 96.0 582.0C100.0 583.1 104.3 582.8 108.0 582.5C111.7 582.2 114.3 581.2 118.0 580.0C121.7 578.8 128.0 575.8 130.0 575.0" stroke="#77ac30" stroke-width="6.8" fill="none" stroke-linecap="round" stroke-linejoin="round"/>
<path d="M49.0 543.0C50.2 545.4 53.1 553.1 56.5 557.6C59.9 562.1 64.9 566.4 69.1 570.2C73.3 574.0 77.4 577.5 81.6 580.2C85.8 582.9 90.0 585.2 94.2 586.5C98.4 587.8 102.5 588.2 106.7 587.8C110.9 587.4 115.1 585.7 119.3 584.0C123.5 582.3 127.7 579.5 131.8 577.7C135.9 575.9 142.0 573.8 144.0 573.0" stroke="#77ac30" stroke-width="6.8" fill="none" stroke-linecap="round" stroke-linejoin="round"/>
<circle cx="217.6" cy="470.4" r="3.2" fill="none" stroke="#77ac30" stroke-width="0.9"/>
<circle cx="217.8" cy="474.1" r="3.2" fill="none" stroke="#77ac30" stroke-width="0.9"/>
<circle cx="218.0" cy="478.1" r="3.2" fill="none" stroke="#77ac30" stroke-width="0.9"/>
<circle cx="218.2" cy="481.9" r="3.2" fill="none" stroke="#77ac30" stroke-width="0.9"/>
<circle cx="218.5" cy="485.9" r="3.2" fill="none" stroke="#77ac30" stroke-width="0.9"/>
<circle cx="218.7" cy="489.7" r="3.2" fill="none" stroke="#77ac30" stroke-width="0.9"/>
<circle cx="218.9" cy="493.5" r="3.2" fill="none" stroke="#77ac30" stroke-width="0.9"/>
<circle cx="219.1" cy="496.9" r="3.2" fill="none" stroke="#77ac30" stroke-width="0.9"/>
<circle cx="219.3" cy="500.7" r="3.2" fill="none" stroke="#77ac30" stroke-width="0.9"/>
<circle cx="219.5" cy="504.3" r="3.2" fill="none" stroke="#77ac30" stroke-width="0.9"/>
<circle cx="219.8" cy="508.0" r="3.2" fill="none" stroke="#77ac30" stroke-width="0.9"/>
<circle cx="220.4" cy="511.5" r="3.2" fill="none" stroke="#77ac30" stroke-width="0.9"/>
<circle cx="221.5" cy="514.9" r="3.2" fill="none" stroke="#77ac30" stroke-width="0.9"/>
<circle cx="223.1" cy="518.1" r="3.2" fill="none" stroke="#77ac30" stroke-width="0.9"/>
<circle cx="224.6" cy="521.4" r="3.2" fill="none" stroke="#77ac30" stroke-width="0.9"/>
<circle cx="225.9" cy="524.7" r="3.2" fill="none" stroke="#77ac30" stroke-width="0.9"/>
<circle cx="227.3" cy="528.1" r="3.2" fill="none" stroke="#77ac30" stroke-width="0.9"/>
<circle cx="228.7" cy="531.3" r="3.2" fill="none" stroke="#77ac30" stroke-width="0.9"/>
<path d="M229.0 532.0C229.3 532.8 229.3 535.0 231.0 537.0C232.7 539.0 235.8 543.0 239.0 544.0C242.2 545.0 246.7 542.3 250.0 543.0C253.3 543.7 256.0 545.5 259.0 548.0C262.0 550.5 265.8 555.5 268.0 558.0C270.2 560.5 269.9 559.0 272.0 563.0C274.1 567.0 277.2 576.0 280.3 582.2C283.4 588.4 287.0 594.9 290.4 600.2C293.8 605.6 297.4 611.1 300.4 614.3C303.4 617.5 305.7 619.3 308.4 619.3C311.1 619.3 313.8 617.1 316.5 614.3C319.2 611.4 321.8 607.2 324.5 602.2C327.2 597.2 329.8 590.6 332.5 584.2C335.2 577.9 337.9 570.1 340.6 564.1C343.3 558.1 346.3 551.7 348.6 548.0C350.9 544.3 353.6 543.0 354.6 542.0" stroke="#77ac30" stroke-width="6.8" fill="none" stroke-linecap="round" stroke-linejoin="round"/>
<path d="M217.5 478.0C217.9 475.3 218.9 467.3 220.2 462.0C221.5 456.7 223.1 450.7 225.2 446.0C227.3 441.3 230.6 436.6 232.7 434.0C234.8 431.4 236.0 430.4 237.7 430.2C239.4 430.0 240.6 428.9 242.7 433.0C244.8 437.1 247.6 448.1 250.2 455.0C252.8 461.9 255.5 467.8 258.2 474.1C260.9 480.4 263.3 487.2 266.3 493.0C269.3 498.8 273.2 503.8 276.3 509.0C279.4 514.2 282.4 519.5 285.1 524.5C287.8 529.5 290.1 533.9 292.6 539.0C295.1 544.1 297.2 548.1 300.2 555.0C303.2 561.9 307.0 573.0 310.4 580.2C313.8 587.4 317.5 593.9 320.5 598.2C323.5 602.6 326.2 604.6 328.5 606.3C330.8 608.0 332.5 609.3 334.5 608.3C336.5 607.3 339.6 601.6 340.6 600.2" stroke="#77ac30" stroke-width="6.8" fill="none" stroke-linecap="round" stroke-linejoin="round"/>
<circle cx="340.6" cy="600.2" r="3.2" fill="none" stroke="#77ac30" stroke-width="0.9"/>
<circle cx="342.0" cy="596.7" r="3.2" fill="none" stroke="#77ac30" stroke-width="0.9"/>
<circle cx="343.2" cy="593.5" r="3.2" fill="none" stroke="#77ac30" stroke-width="0.9"/>
<circle cx="344.4" cy="590.3" r="3.2" fill="none" stroke="#77ac30" stroke-width="0.9"/>
<circle cx="345.6" cy="587.0" r="3.2" fill="none" stroke="#77ac30" stroke-width="0.9"/>
<circle cx="346.8" cy="583.7" r="3.2" fill="none" stroke="#77ac30" stroke-width="0.9"/>
<circle cx="347.8" cy="580.4" r="3.2" fill="none" stroke="#77ac30" stroke-width="0.9"/>
<circle cx="348.9" cy="576.8" r="3.2" fill="none" stroke="#77ac30" stroke-width="0.9"/>
<circle cx="350.0" cy="573.1" r="3.2" fill="none" stroke="#77ac30" stroke-width="0.9"/>
<circle cx="351.1" cy="569.5" r="3.2" fill="none" stroke="#77ac30" stroke-width="0.9"/>
<circle cx="352.1" cy="566.0" r="3.2" fill="none" stroke="#77ac30" stroke-width="0.9"/>
<circle cx="353.1" cy="562.3" r="3.2" fill="none" stroke="#77ac30" stroke-width="0.9"/>
<circle cx="354.2" cy="558.7" r="3.2" fill="none" stroke="#77ac30" stroke-width="0.9"/>
<circle cx="355.1" cy="555.3" r="3.2" fill="none" stroke="#77ac30" stroke-width="0.9"/>
<circle cx="356.0" cy="551.8" r="3.2" fill="none" stroke="#77ac30" stroke-width="0.9"/>
<circle cx="356.5" cy="548.4" r="3.2" fill="none" stroke="#77ac30" stroke-width="0.9"/>
<circle cx="356.9" cy="545.0" r="3.2" fill="none" stroke="#77ac30" stroke-width="0.9"/>
<circle cx="357.1" cy="541.1" r="3.2" fill="none" stroke="#77ac30" stroke-width="0.9"/>
<circle cx="357.1" cy="537.6" r="3.2" fill="none" stroke="#77ac30" stroke-width="0.9"/>
<circle cx="357.2" cy="533.7" r="3.2" fill="none" stroke="#77ac30" stroke-width="0.9"/>
<circle cx="357.2" cy="530.0" r="3.2" fill="none" stroke="#77ac30" stroke-width="0.9"/>
<path d="M215.0 484.0C216.2 482.3 219.5 476.8 222.0 474.0C224.5 471.2 227.0 468.8 230.0 467.0C233.0 465.2 236.7 463.2 240.0 463.0C243.3 462.8 246.7 464.2 250.0 466.0C253.3 467.8 256.2 471.7 260.0 474.0C263.8 476.3 268.3 477.7 272.5 480.0C276.7 482.3 282.1 485.9 285.0 488.0C287.9 490.1 287.7 490.7 290.0 492.6C292.3 494.6 295.9 497.2 298.8 499.7C301.7 502.2 304.7 505.0 307.6 507.6C310.5 510.2 313.4 512.7 316.3 515.5C319.2 518.3 322.2 521.4 325.1 524.2C328.0 527.0 331.0 529.8 333.9 532.1C336.8 534.5 339.8 536.8 342.7 538.3C345.6 539.8 349.3 540.3 351.5 540.9C353.7 541.5 355.2 541.8 356.0 542.0" stroke="#77ac30" stroke-width="6.8" fill="none" stroke-linecap="round" stroke-linejoin="round"/>
<path d="M215.0 485.0C216.2 483.5 219.5 478.7 222.0 476.0C224.5 473.3 227.0 470.8 230.0 469.0C233.0 467.2 236.7 465.0 240.0 465.0C243.3 465.0 246.7 466.8 250.0 469.0C253.3 471.2 256.2 475.2 260.0 478.0C263.8 480.8 268.3 483.0 272.5 486.0C276.7 489.0 280.6 492.4 285.0 496.0C289.4 499.6 295.0 504.4 298.8 507.6C302.6 510.9 304.7 512.7 307.6 515.5C310.5 518.3 313.4 521.3 316.3 524.2C319.2 527.1 322.2 530.2 325.1 533.0C328.0 535.8 331.0 538.7 333.9 540.9C336.8 543.1 339.8 545.6 342.7 546.2C345.6 546.8 349.3 544.8 351.5 544.4C353.7 544.0 355.2 544.1 356.0 544.0" stroke="#77ac30" stroke-width="6.8" fill="none" stroke-linecap="round" stroke-linejoin="round"/>
<path d="M215.0 486.0C216.2 484.5 219.5 479.7 222.0 477.0C224.5 474.3 227.0 471.8 230.0 470.0C233.0 468.2 236.7 465.5 240.0 466.0C243.3 466.5 246.7 470.0 250.0 473.0C253.3 476.0 256.2 480.3 260.0 484.0C263.8 487.7 268.3 491.0 272.5 495.0C276.7 499.0 280.6 503.6 285.0 508.0C289.4 512.4 295.0 518.0 298.8 521.6C302.6 525.2 304.7 526.9 307.6 529.5C310.5 532.1 313.4 534.8 316.3 537.4C319.2 540.0 322.2 542.9 325.1 545.3C328.0 547.6 331.0 550.2 333.9 551.5C336.8 552.8 339.8 553.7 342.7 553.2C345.6 552.8 349.3 549.8 351.5 548.8C353.7 547.8 355.2 547.3 356.0 547.0" stroke="#77ac30" stroke-width="6.8" fill="none" stroke-linecap="round" stroke-linejoin="round"/>
<path d="M215.0 487.0C216.2 485.5 219.5 480.7 222.0 478.0C224.5 475.3 227.0 472.8 230.0 471.0C233.0 469.2 236.7 466.3 240.0 467.0C243.3 467.7 246.7 471.5 250.0 475.0C253.3 478.5 256.2 483.8 260.0 488.0C263.8 492.2 268.3 495.8 272.5 500.0C276.7 504.2 280.6 508.5 285.0 513.0C289.4 517.5 295.0 523.3 298.8 527.0C302.6 530.7 304.7 532.5 307.6 535.0C310.5 537.5 313.4 539.8 316.3 542.0C319.2 544.2 322.2 546.2 325.1 548.0C328.0 549.8 331.0 552.0 333.9 553.0C336.8 554.0 339.8 554.5 342.7 554.0C345.6 553.5 349.3 551.0 351.5 550.0C353.7 549.0 355.2 548.3 356.0 548.0" stroke="#77ac30" stroke-width="6.8" fill="none" stroke-linecap="round" stroke-linejoin="round"/>
<circle cx="187.3" cy="580.0" r="3.2" fill="none" stroke="#77ac30" stroke-width="0.9"/>
<circle cx="187.2" cy="583.4" r="3.2" fill="none" stroke="#77ac30" stroke-width="0.9"/>
<circle cx="187.0" cy="587.0" r="3.2" fill="none" stroke="#77ac30" stroke-width="0.9"/>
<circle cx="186.8" cy="590.5" r="3.2" fill="none" stroke="#77ac30" stroke-width="0.9"/>
<circle cx="186.6" cy="594.2" r="3.2" fill="none" stroke="#77ac30" stroke-width="0.9"/>
<circle cx="186.2" cy="597.8" r="3.2" fill="none" stroke="#77ac30" stroke-width="0.9"/>
<circle cx="185.7" cy="601.3" r="3.2" fill="none" stroke="#77ac30" stroke-width="0.9"/>
<circle cx="185.2" cy="604.7" r="3.2" fill="none" stroke="#77ac30" stroke-width="0.9"/>
<circle cx="184.6" cy="608.3" r="3.2" fill="none" stroke="#77ac30" stroke-width="0.9"/>
<path d="M542.0 526.0C545.0 526.2 554.7 525.5 560.0 527.0C565.3 528.5 569.0 531.7 574.0 535.0C579.0 538.3 584.0 543.7 590.0 547.0C596.0 550.3 603.3 551.7 610.0 555.0C616.7 558.3 623.3 563.7 630.0 567.0C636.7 570.3 643.3 572.3 650.0 575.0C656.7 577.7 664.5 581.0 670.0 583.0C675.5 585.0 680.8 586.3 683.0 587.0" stroke="#77ac30" stroke-width="6.8" fill="none" stroke-linecap="round" stroke-linejoin="round"/>
<path d="M542.0 527.0C545.0 528.7 553.7 533.3 560.0 537.0C566.3 540.7 573.3 544.7 580.0 549.0C586.7 553.3 593.3 558.0 600.0 563.0C606.7 568.0 613.3 575.3 620.0 579.0C626.7 582.7 633.3 583.8 640.0 585.0C646.7 586.2 652.8 585.8 660.0 586.0C667.2 586.2 679.2 586.0 683.0 586.0" stroke="#77ac30" stroke-width="6.8" fill="none" stroke-linecap="round" stroke-linejoin="round"/>
<path d="M542.0 527.0C544.3 527.7 551.3 529.2 556.0 531.0C560.7 532.8 565.2 535.5 570.0 538.0C574.8 540.5 580.3 543.8 585.0 546.0C589.7 548.2 593.8 549.9 598.0 551.5C602.2 553.1 608.0 554.8 610.0 555.5" stroke="#77ac30" stroke-width="6.8" fill="none" stroke-linecap="round" stroke-linejoin="round"/>
<path d="M45.6 922.6L45.6 1022.5" stroke="#77ac30" stroke-width="6.8" stroke-linecap="round"/>
<path d="M80.6 932.8L80.6 971.3" stroke="#77ac30" stroke-width="6.8" stroke-linecap="round"/>
<path d="M115.8 947.1L115.8 1003.3" stroke="#77ac30" stroke-width="6.8" stroke-linecap="round"/>
<path d="M150.9 965.3L150.9 1007.5" stroke="#77ac30" stroke-width="6.8" stroke-linecap="round"/>
<path d="M186.4 979.1L186.4 1012.9" stroke="#77ac30" stroke-width="6.8" stroke-linecap="round"/>
<path d="M213.2 878.5L213.2 973.0" stroke="#77ac30" stroke-width="6.8" stroke-linecap="round"/>
<path d="M248.4 831.5L248.4 965.5" stroke="#77ac30" stroke-width="6.8" stroke-linecap="round"/>
<path d="M283.6 876.3L283.6 912.2" stroke="#77ac30" stroke-width="6.8" stroke-linecap="round"/>
<path d="M318.8 892.3L318.8 933.5" stroke="#77ac30" stroke-width="6.8" stroke-linecap="round"/>
<path d="M354.0 915.8L354.0 959.1" stroke="#77ac30" stroke-width="6.8" stroke-linecap="round"/>
<circle cx="213.2" cy="870.4" r="3.2" fill="none" stroke="#77ac30" stroke-width="0.9"/>
<path d="M538.1 919.1L538.1 934.8" stroke="#77ac30" stroke-width="6.8" stroke-linecap="round"/>
<path d="M573.3 929.2L573.3 939.4" stroke="#77ac30" stroke-width="6.8" stroke-linecap="round"/>
<path d="M608.3 949.5L608.3 952.9" stroke="#77ac30" stroke-width="6.8" stroke-linecap="round"/>
<path d="M643.5 964.2L643.5 965.3" stroke="#77ac30" stroke-width="6.8" stroke-linecap="round"/>
<path d="M678.8 980.0L678.8 981.1" stroke="#77ac30" stroke-width="6.8" stroke-linecap="round"/>
<path d="M44.0 153.5C46.5 153.3 54.4 152.6 58.8 152.5C63.1 152.4 67.2 152.3 70.1 153.1C73.0 153.9 74.3 155.1 76.4 157.5C78.5 159.9 80.6 163.6 82.7 167.6C84.8 171.6 86.8 176.6 88.9 181.4C91.0 186.2 92.9 191.2 95.2 196.4C97.5 201.6 100.2 206.7 102.5 212.5C104.8 218.3 106.7 225.1 108.8 231.4C110.9 237.7 112.8 244.1 115.1 250.2C117.4 256.3 120.1 262.6 122.6 267.8C125.1 273.0 127.5 278.2 130.2 281.6C132.9 285.1 136.2 287.5 138.9 288.5C141.6 289.5 144.0 289.2 146.5 287.8C149.0 286.4 151.5 284.1 154.0 280.3C156.5 276.5 159.0 270.8 161.5 265.2C164.0 259.6 166.5 252.9 169.0 246.4C171.5 239.9 174.3 232.0 176.6 226.3C178.9 220.7 181.2 215.2 182.8 212.5C184.4 209.8 185.7 210.5 186.3 210.1" stroke="#c9502a" stroke-width="1.2" fill="none" stroke-linecap="round"/>
<path d="M52.5 190.2C53.4 192.3 55.5 199.6 57.6 202.7C59.7 205.8 62.2 208.3 65.1 209.0C68.0 209.7 72.0 206.7 75.1 207.1C78.2 207.5 81.4 209.8 83.9 211.5C86.4 213.2 87.7 214.9 90.0 217.6C92.3 220.3 94.8 223.6 97.5 227.6C100.2 231.6 103.4 236.4 106.3 241.4C109.2 246.4 112.4 252.5 115.1 257.7C117.8 262.9 119.9 268.2 122.6 272.8C125.3 277.4 128.1 282.4 131.4 285.3C134.8 288.2 139.6 289.6 142.7 290.3C145.8 291.0 147.5 290.9 150.2 289.7C152.9 288.4 156.3 286.0 159.0 282.8C161.7 279.6 164.0 275.7 166.5 270.3C169.0 264.9 171.8 256.5 174.1 250.2C176.4 243.9 178.4 237.6 180.3 232.6C182.2 227.6 184.2 222.8 185.4 220.1C186.6 217.4 187.2 217.0 187.6 216.4" stroke="#c9502a" stroke-width="1.2" fill="none" stroke-linecap="round"/>
<path d="M92.2 122.2C93.2 118.8 96.2 107.8 98.2 102.1C100.2 96.4 102.3 91.3 104.3 88.1C106.3 84.9 108.3 83.3 110.3 83.1C112.3 82.9 114.3 83.9 116.3 87.1C118.3 90.3 120.3 96.2 122.3 102.1C124.3 107.9 126.5 115.9 128.4 122.2C130.3 128.5 131.7 134.9 133.9 140.0C136.1 145.1 138.7 148.1 141.4 152.5C144.1 156.9 147.7 162.1 150.2 166.3C152.7 170.5 154.4 173.6 156.5 177.6C158.6 181.6 160.8 186.5 162.7 190.2C164.6 193.9 166.1 196.7 167.8 200.0C169.5 203.3 171.2 206.4 172.8 210.0C174.4 213.6 175.4 217.2 177.5 221.4C179.6 225.6 182.6 230.6 185.1 235.2C187.6 239.8 190.1 244.8 192.6 249.0C195.1 253.2 198.0 257.8 200.1 260.3C202.2 262.8 203.2 264.3 205.1 264.1C207.0 263.9 209.3 261.9 211.4 259.0C213.5 256.1 216.6 248.6 217.7 246.5" stroke="#c9502a" stroke-width="1.2" fill="none" stroke-linecap="round"/>
<path d="M87.7 149.0C88.5 148.2 90.2 143.9 92.2 144.3C94.2 144.7 97.5 148.9 100.0 151.3C102.5 153.7 105.0 156.5 107.5 158.8C110.0 161.1 112.6 162.6 115.1 165.1C117.6 167.6 120.1 171.2 122.6 173.9C125.1 176.6 127.6 179.3 130.1 181.4C132.6 183.5 134.7 185.8 137.6 186.4C140.5 187.0 144.3 186.2 147.7 185.2C151.0 184.2 154.3 181.9 157.7 180.2C161.0 178.5 164.5 176.8 167.8 175.1C171.2 173.4 174.5 171.1 177.8 170.1C181.1 169.1 184.5 168.9 187.8 168.9C191.1 168.9 194.6 168.8 197.7 170.2C200.8 171.5 203.5 174.5 206.4 177.0C209.3 179.5 212.5 182.6 215.2 185.0C217.9 187.4 220.2 190.0 222.7 191.5C225.2 193.0 228.9 193.4 230.2 193.8" stroke="#c9502a" stroke-width="1.2" fill="none" stroke-linecap="round"/>
<path d="M150.0 183.0C151.3 182.5 155.2 180.2 157.7 180.2C160.2 180.1 162.3 181.4 165.2 182.7C168.1 183.9 172.0 186.7 175.3 187.7C178.7 188.7 182.0 189.7 185.3 188.9C188.7 188.1 192.3 184.4 195.4 182.7C198.5 181.0 201.1 181.0 204.0 178.9C206.9 176.8 210.0 172.5 212.7 170.2C215.4 167.9 217.1 166.9 220.0 165.2C222.9 163.5 226.8 161.5 230.1 160.2C233.4 158.8 236.8 158.1 240.1 157.1C243.4 156.1 246.8 155.1 250.2 154.1C253.5 153.1 256.9 152.1 260.2 151.1C263.5 150.1 266.5 148.5 270.2 148.1C273.9 147.7 278.7 148.1 282.6 148.9C286.6 149.7 290.5 151.0 293.9 152.7C297.2 154.4 300.0 156.6 302.7 158.9C305.4 161.2 308.3 164.6 310.2 166.5C312.1 168.4 313.4 169.6 314.0 170.2" stroke="#c9502a" stroke-width="1.2" fill="none" stroke-linecap="round"/>
<path d="M129.5 125.0C129.8 124.8 130.0 125.6 131.3 124.0C132.6 122.4 135.0 118.1 137.5 115.2C140.0 112.3 143.2 108.9 146.3 106.4C149.4 103.9 153.6 100.5 156.3 100.1C159.0 99.7 160.5 102.0 162.6 103.9C164.7 105.8 166.8 109.1 168.9 111.4C171.0 113.7 172.7 116.5 175.2 117.7C177.7 119.0 180.7 117.9 184.0 118.9C187.3 120.0 191.6 121.7 195.2 124.0C198.8 126.3 202.0 129.2 205.3 132.7C208.6 136.2 211.9 141.4 215.2 145.1C218.5 148.8 222.3 152.2 225.3 155.1C228.3 157.9 230.6 159.7 233.1 162.2C235.6 164.7 237.6 167.7 240.1 170.2C242.6 172.7 245.3 175.4 248.2 177.2C251.0 179.0 254.2 180.2 257.2 181.2C260.2 182.2 263.7 183.3 266.2 183.3C268.7 183.3 271.2 181.5 272.2 181.2" stroke="#c9502a" stroke-width="1.2" fill="none" stroke-linecap="round"/>
<path d="M171.9 112.0C172.4 113.0 173.8 115.6 175.2 118.0C176.6 120.4 178.3 123.6 180.2 126.5C182.1 129.4 184.4 132.7 186.5 135.2C188.6 137.7 190.4 139.4 192.7 141.5C195.0 143.6 197.6 145.3 200.3 147.8C203.0 150.3 206.1 154.1 209.0 156.3C211.9 158.5 215.2 159.9 218.0 161.2C220.8 162.5 223.4 164.0 226.1 164.2C228.8 164.4 231.8 163.2 234.1 162.2C236.4 161.2 237.4 159.2 240.1 158.2C242.8 157.2 247.3 155.9 250.2 156.1C253.0 156.3 255.0 157.5 257.2 159.2C259.4 160.9 261.4 163.7 263.2 166.2C265.0 168.7 266.7 171.9 268.2 174.2C269.7 176.5 271.5 179.2 272.2 180.2" stroke="#c9502a" stroke-width="1.2" fill="none" stroke-linecap="round"/>
<path d="M172.7 111.4C173.9 109.7 177.7 104.3 180.2 101.4C182.7 98.5 184.8 96.2 187.7 93.8C190.6 91.4 194.9 87.3 197.8 86.9C200.7 86.5 203.0 89.5 205.3 91.3C207.6 93.1 209.5 95.5 211.6 97.6C213.7 99.7 215.7 101.6 217.8 104.0C219.9 106.4 222.0 109.5 224.0 112.0C226.0 114.5 228.0 116.7 230.0 119.0C232.0 121.3 233.6 123.8 236.1 126.0C238.6 128.2 242.2 130.2 245.1 132.0C247.9 133.8 250.3 135.6 253.2 137.1C256.1 138.6 259.5 140.5 262.7 141.0C265.9 141.5 268.8 140.7 272.5 140.1C276.2 139.5 280.9 138.5 285.1 137.6C289.3 136.7 293.0 135.4 297.6 134.5C302.2 133.6 308.5 132.2 312.7 132.0C316.9 131.8 319.3 132.4 322.7 133.2C326.1 134.0 329.6 135.2 332.8 137.0C336.0 138.8 338.9 141.7 341.6 143.9C344.3 146.1 346.6 148.9 349.1 150.2C351.6 151.4 355.4 151.2 356.6 151.4" stroke="#c9502a" stroke-width="1.2" fill="none" stroke-linecap="round"/>
<path d="M214.3 99.5C215.2 100.2 217.8 102.8 220.0 103.9C222.2 105.1 224.8 104.7 227.5 106.4C230.2 108.1 233.4 111.2 236.3 113.9C239.2 116.6 242.2 119.6 245.1 122.7C248.0 125.8 251.4 129.8 253.9 132.7C256.4 135.6 257.9 137.4 260.2 140.3C262.5 143.2 265.4 147.4 267.7 150.3C270.0 153.2 271.9 155.4 274.0 157.8C276.1 160.2 277.9 162.6 280.0 165.0C282.1 167.4 283.8 170.5 286.3 172.2C288.8 173.9 291.5 174.9 295.1 175.2C298.7 175.5 304.8 174.6 307.7 174.0C310.6 173.4 311.9 171.9 312.7 171.5" stroke="#c9502a" stroke-width="1.2" fill="none" stroke-linecap="round"/>
<path d="M214.3 99.0C215.2 98.1 217.4 96.1 220.0 93.8C222.6 91.5 226.9 87.0 230.0 85.1C233.1 83.2 235.9 82.1 238.8 82.5C241.7 82.9 244.5 85.1 247.6 87.6C250.7 90.1 254.3 94.8 257.6 97.6C261.0 100.4 264.4 101.6 267.7 104.5C271.0 107.4 274.3 111.2 277.7 115.0C281.1 118.8 284.4 123.0 287.8 127.0C291.2 131.0 294.5 135.1 297.8 139.0C301.1 142.9 305.0 147.1 307.7 150.2C310.4 153.3 311.9 155.4 314.0 157.7C316.1 160.0 317.7 162.1 320.2 164.0C322.7 165.9 326.1 168.2 329.0 169.0C331.9 169.8 334.7 170.1 337.8 169.0C340.9 167.9 344.9 164.8 347.8 162.7C350.7 160.6 354.1 157.4 355.4 156.4" stroke="#c9502a" stroke-width="1.2" fill="none" stroke-linecap="round"/>
<path d="M47.8 538.8C49.2 538.4 53.0 536.6 56.5 536.3C60.0 536.0 65.8 536.1 69.1 536.9C72.4 537.7 74.1 538.9 76.6 541.3C79.1 543.7 81.9 547.8 84.2 551.4C86.5 555.0 88.5 558.9 90.4 562.7C92.3 566.5 93.7 570.2 95.4 574.0C97.1 577.8 99.0 581.7 100.5 585.2C102.0 588.8 103.0 591.7 104.2 595.3C105.5 598.9 106.5 602.6 108.0 606.6C109.5 610.6 111.0 614.1 113.1 619.2C115.2 624.3 117.9 631.4 120.7 637.2C123.5 643.0 126.4 648.8 129.7 653.8C132.9 658.8 137.2 664.2 140.2 667.3C143.2 670.4 145.3 672.1 147.8 672.6C150.3 673.1 152.6 672.8 155.3 670.4C158.1 668.0 161.3 663.3 164.3 658.3C167.3 653.3 170.6 646.5 173.4 640.2C176.2 633.9 178.7 627.0 180.9 620.7C183.2 614.4 185.4 607.9 186.9 602.6C188.4 597.3 189.4 591.3 189.9 589.0" stroke="#c9502a" stroke-width="1.2" fill="none" stroke-linecap="round"/>
<path d="M47.8 545.1C48.6 546.8 50.7 551.1 52.8 555.1C54.9 559.1 57.8 564.7 60.3 568.9C62.8 573.1 65.1 576.6 67.8 580.2C70.5 583.8 73.4 587.6 76.6 590.3C79.8 593.0 83.3 595.0 86.7 596.5C90.1 598.0 93.4 598.8 96.7 599.0C100.0 599.2 102.8 599.4 106.7 597.8C110.6 596.2 116.1 592.0 120.0 589.5C123.9 587.0 126.7 585.2 130.0 583.0C133.3 580.8 136.7 577.6 140.0 576.0C143.3 574.4 146.7 573.3 150.0 573.5C153.3 573.7 156.7 575.5 160.0 577.0C163.3 578.5 167.0 580.8 170.0 582.5C173.0 584.2 175.5 586.2 178.0 587.5C180.5 588.8 183.2 589.9 185.0 590.5C186.8 591.1 188.3 590.9 189.0 591.0" stroke="#c9502a" stroke-width="1.2" fill="none" stroke-linecap="round"/>
<path d="M51.5 545.1C53.0 546.1 57.4 549.3 60.3 551.4C63.2 553.5 66.2 555.3 69.1 557.6C72.0 559.9 74.8 562.7 77.9 565.2C81.0 567.7 84.6 570.6 87.9 572.7C91.2 574.8 94.5 576.7 98.0 577.7C101.5 578.8 105.5 579.1 109.2 579.0C112.9 578.9 116.5 577.9 120.0 577.0C123.5 576.1 127.0 574.8 130.0 573.5C133.0 572.2 135.0 570.3 138.0 569.5C141.0 568.7 144.7 568.2 148.0 568.5C151.3 568.8 154.7 570.3 158.0 571.5C161.3 572.7 165.0 574.0 168.0 575.5C171.0 577.0 173.3 578.8 176.0 580.5C178.7 582.2 181.8 584.4 184.0 586.0C186.2 587.6 188.2 589.3 189.0 590.0" stroke="#c9502a" stroke-width="1.2" fill="none" stroke-linecap="round"/>
<path d="M229.0 532.0C229.3 532.8 229.3 535.0 231.0 537.0C232.7 539.0 235.8 543.0 239.0 544.0C242.2 545.0 246.7 542.3 250.0 543.0C253.3 543.7 256.0 545.5 259.0 548.0C262.0 550.5 265.8 555.5 268.0 558.0C270.2 560.5 269.9 559.0 272.0 563.0C274.1 567.0 277.2 576.0 280.3 582.2C283.4 588.4 287.0 594.9 290.4 600.2C293.8 605.6 297.4 611.1 300.4 614.3C303.4 617.5 305.7 619.3 308.4 619.3C311.1 619.3 313.8 617.1 316.5 614.3C319.2 611.4 321.8 607.2 324.5 602.2C327.2 597.2 329.8 590.6 332.5 584.2C335.2 577.9 337.9 570.1 340.6 564.1C343.3 558.1 346.3 551.7 348.6 548.0C350.9 544.3 353.6 543.0 354.6 542.0" stroke="#c9502a" stroke-width="1.2" fill="none" stroke-linecap="round"/>
<path d="M217.5 478.0C217.9 475.3 218.9 467.3 220.2 462.0C221.5 456.7 223.1 450.7 225.2 446.0C227.3 441.3 230.6 436.6 232.7 434.0C234.8 431.4 236.0 430.4 237.7 430.2C239.4 430.0 240.6 428.9 242.7 433.0C244.8 437.1 247.6 448.1 250.2 455.0C252.8 461.9 255.5 467.8 258.2 474.1C260.9 480.4 263.3 487.2 266.3 493.0C269.3 498.8 273.2 503.8 276.3 509.0C279.4 514.2 282.4 519.5 285.1 524.5C287.8 529.5 290.1 533.9 292.6 539.0C295.1 544.1 297.2 548.1 300.2 555.0C303.2 561.9 307.0 573.0 310.4 580.2C313.8 587.4 317.5 593.9 320.5 598.2C323.5 602.6 326.2 604.6 328.5 606.3C330.8 608.0 332.5 609.3 334.5 608.3C336.5 607.3 339.6 601.6 340.6 600.2" stroke="#c9502a" stroke-width="1.2" fill="none" stroke-linecap="round"/>
<path d="M215.0 484.0C216.2 482.3 219.5 476.8 222.0 474.0C224.5 471.2 227.0 468.8 230.0 467.0C233.0 465.2 236.7 463.2 240.0 463.0C243.3 462.8 246.7 464.2 250.0 466.0C253.3 467.8 256.2 471.7 260.0 474.0C263.8 476.3 268.3 477.7 272.5 480.0C276.7 482.3 282.1 485.9 285.0 488.0C287.9 490.1 287.7 490.7 290.0 492.6C292.3 494.6 295.9 497.2 298.8 499.7C301.7 502.2 304.7 505.0 307.6 507.6C310.5 510.2 313.4 512.7 316.3 515.5C319.2 518.3 322.2 521.4 325.1 524.2C328.0 527.0 331.0 529.8 333.9 532.1C336.8 534.5 339.8 536.8 342.7 538.3C345.6 539.8 349.3 540.3 351.5 540.9C353.7 541.5 355.2 541.8 356.0 542.0" stroke="#c9502a" stroke-width="1.2" fill="none" stroke-linecap="round"/>
<path d="M215.0 485.0C216.2 483.5 219.5 478.7 222.0 476.0C224.5 473.3 227.0 470.8 230.0 469.0C233.0 467.2 236.7 465.0 240.0 465.0C243.3 465.0 246.7 466.8 250.0 469.0C253.3 471.2 256.2 475.2 260.0 478.0C263.8 480.8 268.3 483.0 272.5 486.0C276.7 489.0 280.6 492.4 285.0 496.0C289.4 499.6 295.0 504.4 298.8 507.6C302.6 510.9 304.7 512.7 307.6 515.5C310.5 518.3 313.4 521.3 316.3 524.2C319.2 527.1 322.2 530.2 325.1 533.0C328.0 535.8 331.0 538.7 333.9 540.9C336.8 543.1 339.8 545.6 342.7 546.2C345.6 546.8 349.3 544.8 351.5 544.4C353.7 544.0 355.2 544.1 356.0 544.0" stroke="#c9502a" stroke-width="1.2" fill="none" stroke-linecap="round"/>
<path d="M215.0 486.0C216.2 484.5 219.5 479.7 222.0 477.0C224.5 474.3 227.0 471.8 230.0 470.0C233.0 468.2 236.7 465.5 240.0 466.0C243.3 466.5 246.7 470.0 250.0 473.0C253.3 476.0 256.2 480.3 260.0 484.0C263.8 487.7 268.3 491.0 272.5 495.0C276.7 499.0 280.6 503.6 285.0 508.0C289.4 512.4 295.0 518.0 298.8 521.6C302.6 525.2 304.7 526.9 307.6 529.5C310.5 532.1 313.4 534.8 316.3 537.4C319.2 540.0 322.2 542.9 325.1 545.3C328.0 547.6 331.0 550.2 333.9 551.5C336.8 552.8 339.8 553.7 342.7 553.2C345.6 552.8 349.3 549.8 351.5 548.8C353.7 547.8 355.2 547.3 356.0 547.0" stroke="#c9502a" stroke-width="1.2" fill="none" stroke-linecap="round"/>
<path d="M45.6 925.0C45.6 941.2 45.6 1005.8 45.6 1022.0" stroke="#c9502a" stroke-opacity="0.7" stroke-width="1.3" stroke-dasharray="1.5 2.2" fill="none"/>
<path d="M115.8 950.0C115.8 958.8 115.8 994.2 115.8 1003.0" stroke="#c9502a" stroke-opacity="0.7" stroke-width="1.3" stroke-dasharray="1.5 2.2" fill="none"/>
<path d="M213.2 880.0C213.2 895.3 213.2 956.7 213.2 972.0" stroke="#c9502a" stroke-opacity="0.7" stroke-width="1.3" stroke-dasharray="1.5 2.2" fill="none"/>
<path d="M248.4 834.0C248.4 855.8 248.4 943.2 248.4 965.0" stroke="#c9502a" stroke-opacity="0.7" stroke-width="1.3" stroke-dasharray="1.5 2.2" fill="none"/>
<circle cx="44.5" cy="143.3" r="1.1" fill="#ff0000"/>
<circle cx="44.9" cy="146.8" r="1.1" fill="#ff0000"/>
<circle cx="45.3" cy="150.3" r="1.1" fill="#ff0000"/>
<circle cx="45.4" cy="153.7" r="1.1" fill="#ff0000"/>
<circle cx="46.0" cy="157.2" r="1.1" fill="#ff0000"/>
<circle cx="46.7" cy="160.6" r="1.1" fill="#ff0000"/>
<circle cx="47.4" cy="164.2" r="1.1" fill="#ff0000"/>
<circle cx="47.9" cy="167.7" r="1.1" fill="#ff0000"/>
<circle cx="48.4" cy="171.1" r="1.1" fill="#ff0000"/>
<circle cx="48.9" cy="174.7" r="1.1" fill="#ff0000"/>
<circle cx="49.5" cy="178.2" r="1.1" fill="#ff0000"/>
<circle cx="50.3" cy="181.8" r="1.1" fill="#ff0000"/>
<circle cx="51.2" cy="185.4" r="1.1" fill="#ff0000"/>
<circle cx="52.1" cy="188.7" r="1.1" fill="#ff0000"/>
<circle cx="87.2" cy="150.0" r="1.1" fill="#ff0000"/>
<circle cx="87.0" cy="146.4" r="1.1" fill="#ff0000"/>
<circle cx="86.8" cy="142.8" r="1.1" fill="#ff0000"/>
<circle cx="87.0" cy="139.3" r="1.1" fill="#ff0000"/>
<circle cx="87.7" cy="136.0" r="1.1" fill="#ff0000"/>
<circle cx="88.8" cy="132.3" r="1.1" fill="#ff0000"/>
<circle cx="89.9" cy="129.1" r="1.1" fill="#ff0000"/>
<circle cx="91.0" cy="125.6" r="1.1" fill="#ff0000"/>
<circle cx="92.2" cy="122.2" r="1.1" fill="#ff0000"/>
<circle cx="217.7" cy="246.5" r="1.1" fill="#ff0000"/>
<circle cx="218.8" cy="243.1" r="1.1" fill="#ff0000"/>
<circle cx="219.9" cy="239.6" r="1.1" fill="#ff0000"/>
<circle cx="220.9" cy="236.3" r="1.1" fill="#ff0000"/>
<circle cx="222.0" cy="232.6" r="1.1" fill="#ff0000"/>
<circle cx="223.0" cy="229.1" r="1.1" fill="#ff0000"/>
<circle cx="223.8" cy="225.5" r="1.1" fill="#ff0000"/>
<circle cx="224.4" cy="222.2" r="1.1" fill="#ff0000"/>
<circle cx="225.0" cy="218.5" r="1.1" fill="#ff0000"/>
<circle cx="225.6" cy="215.0" r="1.1" fill="#ff0000"/>
<circle cx="226.2" cy="211.4" r="1.1" fill="#ff0000"/>
<circle cx="226.7" cy="208.0" r="1.1" fill="#ff0000"/>
<circle cx="227.2" cy="204.6" r="1.1" fill="#ff0000"/>
<circle cx="227.6" cy="201.1" r="1.1" fill="#ff0000"/>
<circle cx="228.1" cy="197.7" r="1.1" fill="#ff0000"/>
<circle cx="228.8" cy="194.3" r="1.1" fill="#ff0000"/>
<circle cx="173.5" cy="124.6" r="1.3" fill="#ff0000"/>
<circle cx="216.0" cy="112.7" r="1.3" fill="#ff0000"/>
<circle cx="270.7" cy="171.5" r="1.3" fill="#ff0000"/>
<circle cx="270.0" cy="175.9" r="1.3" fill="#ff0000"/>
<circle cx="271.9" cy="187.2" r="1.3" fill="#ff0000"/>
<circle cx="313.3" cy="157.4" r="1.3" fill="#ff0000"/>
<circle cx="314.0" cy="165.2" r="1.3" fill="#ff0000"/>
<circle cx="314.6" cy="174.0" r="1.3" fill="#ff0000"/>
<circle cx="355.4" cy="143.9" r="1.3" fill="#ff0000"/>
<circle cx="356.6" cy="151.4" r="1.3" fill="#ff0000"/>
<circle cx="353.5" cy="157.0" r="1.3" fill="#ff0000"/>
<circle cx="356.6" cy="161.4" r="1.3" fill="#ff0000"/>
<circle cx="229.5" cy="184.5" r="1.3" fill="#ff0000"/>
<circle cx="186.0" cy="207.0" r="1.3" fill="#ff0000"/>
<circle cx="188.0" cy="213.0" r="1.3" fill="#ff0000"/>
<circle cx="459.1" cy="169.3" r="1.4" fill="#ff0000"/>
<circle cx="456.1" cy="194.4" r="1.4" fill="#ff0000"/>
<circle cx="458.5" cy="196.4" r="1.4" fill="#ff0000"/>
<circle cx="457.1" cy="222.5" r="1.4" fill="#ff0000"/>
<circle cx="458.1" cy="224.5" r="1.4" fill="#ff0000"/>
<circle cx="500.2" cy="186.7" r="1.4" fill="#ff0000"/>
<circle cx="498.2" cy="193.4" r="1.4" fill="#ff0000"/>
<circle cx="500.2" cy="227.9" r="1.4" fill="#ff0000"/>
<circle cx="499.2" cy="233.5" r="1.4" fill="#ff0000"/>
<circle cx="501.2" cy="149.2" r="1.4" fill="#ff0000"/>
<circle cx="543.4" cy="137.1" r="1.4" fill="#ff0000"/>
<circle cx="543.4" cy="166.3" r="1.4" fill="#ff0000"/>
<circle cx="540.4" cy="182.7" r="1.4" fill="#ff0000"/>
<circle cx="542.4" cy="210.4" r="1.4" fill="#ff0000"/>
<circle cx="585.6" cy="125.1" r="1.4" fill="#ff0000"/>
<circle cx="585.6" cy="145.2" r="1.4" fill="#ff0000"/>
<circle cx="583.6" cy="171.3" r="1.4" fill="#ff0000"/>
<circle cx="595.6" cy="181.3" r="1.4" fill="#ff0000"/>
<circle cx="584.2" cy="215.5" r="1.4" fill="#ff0000"/>
<circle cx="594.6" cy="217.1" r="1.4" fill="#ff0000"/>
<circle cx="593.0" cy="224.9" r="1.4" fill="#ff0000"/>
<circle cx="594.6" cy="232.5" r="1.4" fill="#ff0000"/>
<circle cx="765.7" cy="81.3" r="1.4" fill="#ff0000"/>
<circle cx="723.5" cy="90.1" r="1.4" fill="#ff0000"/>
<circle cx="681.1" cy="106.4" r="1.4" fill="#ff0000"/>
<circle cx="628.4" cy="113.2" r="1.4" fill="#ff0000"/>
<circle cx="767.0" cy="126.0" r="1.4" fill="#ff0000"/>
<circle cx="765.2" cy="136.0" r="1.4" fill="#ff0000"/>
<circle cx="723.5" cy="140.8" r="1.4" fill="#ff0000"/>
<circle cx="680.4" cy="148.3" r="1.4" fill="#ff0000"/>
<circle cx="681.6" cy="154.6" r="1.4" fill="#ff0000"/>
<circle cx="586.3" cy="125.2" r="1.4" fill="#ff0000"/>
<circle cx="585.5" cy="145.3" r="1.4" fill="#ff0000"/>
<circle cx="625.9" cy="159.9" r="1.4" fill="#ff0000"/>
<circle cx="638.2" cy="156.6" r="1.4" fill="#ff0000"/>
<circle cx="596.3" cy="162.4" r="1.4" fill="#ff0000"/>
<circle cx="583.0" cy="171.7" r="1.4" fill="#ff0000"/>
<circle cx="627.7" cy="171.2" r="1.4" fill="#ff0000"/>
<circle cx="639.5" cy="169.7" r="1.4" fill="#ff0000"/>
<circle cx="595.6" cy="181.7" r="1.4" fill="#ff0000"/>
<circle cx="764.4" cy="184.2" r="1.4" fill="#ff0000"/>
<circle cx="721.8" cy="195.5" r="1.4" fill="#ff0000"/>
<circle cx="626.4" cy="204.3" r="1.4" fill="#ff0000"/>
<circle cx="637.2" cy="206.3" r="1.4" fill="#ff0000"/>
<circle cx="583.8" cy="215.1" r="1.4" fill="#ff0000"/>
<circle cx="594.6" cy="216.8" r="1.4" fill="#ff0000"/>
<circle cx="723.0" cy="139.8" r="1.4" fill="#ff0000"/>
<circle cx="763.2" cy="167.9" r="1.4" fill="#ff0000"/>
<circle cx="721.8" cy="181.7" r="1.4" fill="#ff0000"/>
<circle cx="677.9" cy="195.5" r="1.4" fill="#ff0000"/>
<circle cx="636.5" cy="210.6" r="1.4" fill="#ff0000"/>
<circle cx="679.9" cy="204.3" r="1.4" fill="#ff0000"/>
<circle cx="502.0" cy="160.0" r="1.4" fill="#ff0000"/>
<circle cx="503.0" cy="162.0" r="1.4" fill="#ff0000"/>
<circle cx="217.6" cy="470.4" r="1.1" fill="#ff0000"/>
<circle cx="217.8" cy="474.1" r="1.1" fill="#ff0000"/>
<circle cx="218.0" cy="478.1" r="1.1" fill="#ff0000"/>
<circle cx="218.2" cy="481.9" r="1.1" fill="#ff0000"/>
<circle cx="218.5" cy="485.9" r="1.1" fill="#ff0000"/>
<circle cx="218.7" cy="489.7" r="1.1" fill="#ff0000"/>
<circle cx="218.9" cy="493.5" r="1.1" fill="#ff0000"/>
<circle cx="219.1" cy="496.9" r="1.1" fill="#ff0000"/>
<circle cx="219.3" cy="500.7" r="1.1" fill="#ff0000"/>
<circle cx="219.5" cy="504.3" r="1.1" fill="#ff0000"/>
<circle cx="219.8" cy="508.0" r="1.1" fill="#ff0000"/>
<circle cx="220.4" cy="511.5" r="1.1" fill="#ff0000"/>
<circle cx="221.5" cy="514.9" r="1.1" fill="#ff0000"/>
<circle cx="223.1" cy="518.1" r="1.1" fill="#ff0000"/>
<circle cx="224.6" cy="521.4" r="1.1" fill="#ff0000"/>
<circle cx="225.9" cy="524.7" r="1.1" fill="#ff0000"/>
<circle cx="227.3" cy="528.1" r="1.1" fill="#ff0000"/>
<circle cx="228.7" cy="531.3" r="1.1" fill="#ff0000"/>
<circle cx="340.6" cy="600.2" r="1.1" fill="#ff0000"/>
<circle cx="342.0" cy="596.7" r="1.1" fill="#ff0000"/>
<circle cx="343.2" cy="593.5" r="1.1" fill="#ff0000"/>
<circle cx="344.4" cy="590.3" r="1.1" fill="#ff0000"/>
<circle cx="345.6" cy="587.0" r="1.1" fill="#ff0000"/>
<circle cx="346.8" cy="583.7" r="1.1" fill="#ff0000"/>
<circle cx="347.8" cy="580.4" r="1.1" fill="#ff0000"/>
<circle cx="348.9" cy="576.8" r="1.1" fill="#ff0000"/>
<circle cx="350.0" cy="573.1" r="1.1" fill="#ff0000"/>
<circle cx="351.1" cy="569.5" r="1.1" fill="#ff0000"/>
<circle cx="352.1" cy="566.0" r="1.1" fill="#ff0000"/>
<circle cx="353.1" cy="562.3" r="1.1" fill="#ff0000"/>
<circle cx="354.2" cy="558.7" r="1.1" fill="#ff0000"/>
<circle cx="355.1" cy="555.3" r="1.1" fill="#ff0000"/>
<circle cx="356.0" cy="551.8" r="1.1" fill="#ff0000"/>
<circle cx="356.5" cy="548.4" r="1.1" fill="#ff0000"/>
<circle cx="356.9" cy="545.0" r="1.1" fill="#ff0000"/>
<circle cx="357.1" cy="541.1" r="1.1" fill="#ff0000"/>
<circle cx="357.1" cy="537.6" r="1.1" fill="#ff0000"/>
<circle cx="357.2" cy="533.7" r="1.1" fill="#ff0000"/>
<circle cx="357.2" cy="530.0" r="1.1" fill="#ff0000"/>
<circle cx="187.3" cy="580.0" r="1.1" fill="#ff0000"/>
<circle cx="187.2" cy="583.4" r="1.1" fill="#ff0000"/>
<circle cx="187.0" cy="587.0" r="1.1" fill="#ff0000"/>
<circle cx="186.8" cy="590.5" r="1.1" fill="#ff0000"/>
<circle cx="186.6" cy="594.2" r="1.1" fill="#ff0000"/>
<circle cx="186.2" cy="597.8" r="1.1" fill="#ff0000"/>
<circle cx="185.7" cy="601.3" r="1.1" fill="#ff0000"/>
<circle cx="185.2" cy="604.7" r="1.1" fill="#ff0000"/>
<circle cx="184.6" cy="608.3" r="1.1" fill="#ff0000"/>
<circle cx="187.5" cy="580.5" r="1.3" fill="#ff0000"/>
<circle cx="187.5" cy="583.5" r="1.3" fill="#ff0000"/>
<circle cx="48.0" cy="536.0" r="1.3" fill="#ff0000"/>
<circle cx="48.0" cy="548.0" r="1.3" fill="#ff0000"/>
<circle cx="49.0" cy="552.0" r="1.3" fill="#ff0000"/>
<circle cx="543.5" cy="521.0" r="1.4" fill="#ff0000"/>
<circle cx="543.5" cy="535.0" r="1.4" fill="#ff0000"/>
<circle cx="543.5" cy="543.0" r="1.4" fill="#ff0000"/>
<circle cx="543.5" cy="552.0" r="1.4" fill="#ff0000"/>
<circle cx="543.5" cy="558.0" r="1.4" fill="#ff0000"/>
<circle cx="543.5" cy="566.0" r="1.4" fill="#ff0000"/>
<circle cx="543.5" cy="570.0" r="1.4" fill="#ff0000"/>
<circle cx="543.5" cy="580.0" r="1.4" fill="#ff0000"/>
<circle cx="543.5" cy="582.0" r="1.4" fill="#ff0000"/>
<circle cx="543.5" cy="588.0" r="1.4" fill="#ff0000"/>
<circle cx="543.5" cy="594.0" r="1.4" fill="#ff0000"/>
<circle cx="543.5" cy="598.0" r="1.4" fill="#ff0000"/>
<circle cx="543.5" cy="602.0" r="1.4" fill="#ff0000"/>
<circle cx="543.5" cy="608.0" r="1.4" fill="#ff0000"/>
<circle cx="543.5" cy="614.5" r="1.4" fill="#ff0000"/>
<circle cx="543.5" cy="564.0" r="1.4" fill="#ff0000"/>
<circle cx="543.5" cy="567.0" r="1.4" fill="#ff0000"/>
<circle cx="680.7" cy="486.7" r="1.4" fill="#ff0000"/>
<circle cx="680.7" cy="490.5" r="1.4" fill="#ff0000"/>
<circle cx="680.7" cy="494.2" r="1.4" fill="#ff0000"/>
<circle cx="680.7" cy="520.6" r="1.4" fill="#ff0000"/>
<circle cx="680.7" cy="528.0" r="1.4" fill="#ff0000"/>
<circle cx="680.7" cy="533.0" r="1.4" fill="#ff0000"/>
<circle cx="680.7" cy="538.6" r="1.4" fill="#ff0000"/>
<circle cx="680.7" cy="542.0" r="1.4" fill="#ff0000"/>
<circle cx="680.7" cy="546.9" r="1.4" fill="#ff0000"/>
<circle cx="680.7" cy="554.4" r="1.4" fill="#ff0000"/>
<circle cx="213.2" cy="870.4" r="1.1" fill="#ff0000"/>
<circle cx="45.6" cy="921.3" r="1.5" fill="#ff0000"/>
<circle cx="80.6" cy="932.0" r="1.5" fill="#ff0000"/>
<circle cx="115.8" cy="945.9" r="1.5" fill="#ff0000"/>
<circle cx="150.9" cy="960.2" r="1.5" fill="#ff0000"/>
<circle cx="150.9" cy="965.7" r="1.5" fill="#ff0000"/>
<circle cx="186.4" cy="975.1" r="1.5" fill="#ff0000"/>
<circle cx="186.4" cy="979.4" r="1.5" fill="#ff0000"/>
<circle cx="213.2" cy="877.2" r="1.5" fill="#ff0000"/>
<circle cx="248.4" cy="830.3" r="1.5" fill="#ff0000"/>
<circle cx="283.6" cy="874.6" r="1.5" fill="#ff0000"/>
<circle cx="318.8" cy="890.4" r="1.5" fill="#ff0000"/>
<circle cx="354.0" cy="914.1" r="1.5" fill="#ff0000"/>
<circle cx="538.1" cy="854.0" r="1.4" fill="#ff0000"/>
<circle cx="538.1" cy="873.2" r="1.4" fill="#ff0000"/>
<circle cx="538.1" cy="886.7" r="1.4" fill="#ff0000"/>
<circle cx="538.1" cy="908.9" r="1.4" fill="#ff0000"/>
<circle cx="538.1" cy="917.9" r="1.4" fill="#ff0000"/>
<circle cx="538.1" cy="939.4" r="1.4" fill="#ff0000"/>
<circle cx="538.1" cy="946.6" r="1.4" fill="#ff0000"/>
<circle cx="538.1" cy="973.2" r="1.4" fill="#ff0000"/>
<circle cx="538.1" cy="975.5" r="1.4" fill="#ff0000"/>
<circle cx="573.3" cy="843.8" r="1.4" fill="#ff0000"/>
<circle cx="573.3" cy="876.6" r="1.4" fill="#ff0000"/>
<circle cx="573.3" cy="889.2" r="1.4" fill="#ff0000"/>
<circle cx="573.3" cy="927.0" r="1.4" fill="#ff0000"/>
<circle cx="573.3" cy="965.3" r="1.4" fill="#ff0000"/>
<circle cx="573.3" cy="973.7" r="1.4" fill="#ff0000"/>
<circle cx="573.3" cy="1006.7" r="1.4" fill="#ff0000"/>
<circle cx="573.3" cy="1012.8" r="1.4" fill="#ff0000"/>
<circle cx="608.3" cy="854.9" r="1.4" fill="#ff0000"/>
<circle cx="608.3" cy="896.9" r="1.4" fill="#ff0000"/>
<circle cx="608.3" cy="902.3" r="1.4" fill="#ff0000"/>
<circle cx="608.3" cy="973.9" r="1.4" fill="#ff0000"/>
<circle cx="608.3" cy="990.9" r="1.4" fill="#ff0000"/>
<circle cx="608.3" cy="1017.7" r="1.4" fill="#ff0000"/>
<circle cx="608.3" cy="1032.2" r="1.4" fill="#ff0000"/>
<circle cx="643.5" cy="867.1" r="1.4" fill="#ff0000"/>
<circle cx="643.5" cy="916.3" r="1.4" fill="#ff0000"/>
<circle cx="643.5" cy="918.6" r="1.4" fill="#ff0000"/>
<circle cx="643.5" cy="981.4" r="1.4" fill="#ff0000"/>
<circle cx="643.5" cy="1008.0" r="1.4" fill="#ff0000"/>
<circle cx="643.5" cy="1027.2" r="1.4" fill="#ff0000"/>
<circle cx="643.5" cy="1050.9" r="1.4" fill="#ff0000"/>
<circle cx="678.8" cy="886.5" r="1.4" fill="#ff0000"/>
<circle cx="678.8" cy="930.3" r="1.4" fill="#ff0000"/>
<circle cx="678.8" cy="941.2" r="1.4" fill="#ff0000"/>
<circle cx="678.8" cy="1024.5" r="1.4" fill="#ff0000"/>
<circle cx="678.8" cy="1035.3" r="1.4" fill="#ff0000"/>
<circle cx="678.8" cy="1068.5" r="1.4" fill="#ff0000"/>
</svg></body></html>
